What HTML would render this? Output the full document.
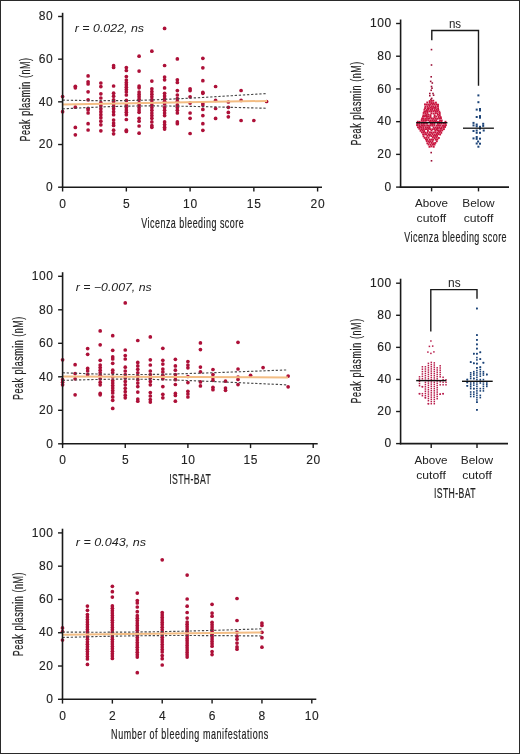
<!DOCTYPE html>
<html><head><meta charset="utf-8"><style>
html,body{margin:0;padding:0;background:#fff;}
svg{display:block;font-family:"Liberation Sans", sans-serif;will-change:transform;}
</style></head><body>
<svg width="520" height="754" viewBox="0 0 520 754">
<rect x="0.5" y="0.5" width="519" height="753" fill="#fff" stroke="#2a2a2a" stroke-width="1"/>
<text x="0" y="0" font-size="14" letter-spacing="0.860" fill="#222" stroke="#222" stroke-width="0.18" transform="translate(29.90,141.50) rotate(-90) scale(0.64,1)">Peak plasmin (nM)</text>
<text x="0" y="0" font-size="14" letter-spacing="0.745" fill="#222" stroke="#222" stroke-width="0.18" transform="translate(141.25,228.00) scale(0.64,1)">Vicenza bleeding score</text>
<text x="74.80" y="31.80" font-size="11" text-anchor="start" font-style="italic" textLength="69.2" lengthAdjust="spacingAndGlyphs" fill="#222" >r = 0.022, ns</text>
<circle cx="62.60" cy="96.60" r="1.85" fill="#ad1038"/>
<circle cx="62.60" cy="111.70" r="1.85" fill="#ad1038"/>
<circle cx="75.35" cy="86.30" r="1.85" fill="#ad1038"/>
<circle cx="75.35" cy="87.80" r="1.85" fill="#ad1038"/>
<circle cx="75.35" cy="107.20" r="1.85" fill="#ad1038"/>
<circle cx="75.35" cy="127.40" r="1.85" fill="#ad1038"/>
<circle cx="75.35" cy="134.80" r="1.85" fill="#ad1038"/>
<circle cx="88.10" cy="75.90" r="1.85" fill="#ad1038"/>
<circle cx="88.10" cy="81.80" r="1.85" fill="#ad1038"/>
<circle cx="88.10" cy="83.90" r="1.85" fill="#ad1038"/>
<circle cx="88.10" cy="91.80" r="1.85" fill="#ad1038"/>
<circle cx="88.10" cy="99.80" r="1.85" fill="#ad1038"/>
<circle cx="88.10" cy="108.30" r="1.85" fill="#ad1038"/>
<circle cx="88.10" cy="109.90" r="1.85" fill="#ad1038"/>
<circle cx="88.10" cy="113.00" r="1.85" fill="#ad1038"/>
<circle cx="88.10" cy="123.70" r="1.85" fill="#ad1038"/>
<circle cx="88.10" cy="130.00" r="1.85" fill="#ad1038"/>
<circle cx="100.85" cy="83.00" r="1.85" fill="#ad1038"/>
<circle cx="100.85" cy="86.60" r="1.85" fill="#ad1038"/>
<circle cx="100.85" cy="93.80" r="1.85" fill="#ad1038"/>
<circle cx="100.85" cy="98.00" r="1.85" fill="#ad1038"/>
<circle cx="100.85" cy="102.70" r="1.85" fill="#ad1038"/>
<circle cx="100.85" cy="105.70" r="1.85" fill="#ad1038"/>
<circle cx="100.85" cy="108.70" r="1.85" fill="#ad1038"/>
<circle cx="100.85" cy="111.70" r="1.85" fill="#ad1038"/>
<circle cx="100.85" cy="114.70" r="1.85" fill="#ad1038"/>
<circle cx="100.85" cy="117.70" r="1.85" fill="#ad1038"/>
<circle cx="100.85" cy="121.20" r="1.85" fill="#ad1038"/>
<circle cx="100.85" cy="124.80" r="1.85" fill="#ad1038"/>
<circle cx="100.85" cy="130.80" r="1.85" fill="#ad1038"/>
<circle cx="113.60" cy="65.70" r="1.85" fill="#ad1038"/>
<circle cx="113.60" cy="67.50" r="1.85" fill="#ad1038"/>
<circle cx="113.60" cy="86.00" r="1.85" fill="#ad1038"/>
<circle cx="113.60" cy="93.20" r="1.85" fill="#ad1038"/>
<circle cx="113.60" cy="96.20" r="1.85" fill="#ad1038"/>
<circle cx="113.60" cy="99.80" r="1.85" fill="#ad1038"/>
<circle cx="113.60" cy="101.50" r="1.85" fill="#ad1038"/>
<circle cx="113.60" cy="103.90" r="1.85" fill="#ad1038"/>
<circle cx="113.60" cy="106.30" r="1.85" fill="#ad1038"/>
<circle cx="113.60" cy="108.70" r="1.85" fill="#ad1038"/>
<circle cx="113.60" cy="111.70" r="1.85" fill="#ad1038"/>
<circle cx="113.60" cy="114.70" r="1.85" fill="#ad1038"/>
<circle cx="113.60" cy="120.00" r="1.85" fill="#ad1038"/>
<circle cx="113.60" cy="123.00" r="1.85" fill="#ad1038"/>
<circle cx="113.60" cy="125.40" r="1.85" fill="#ad1038"/>
<circle cx="113.60" cy="130.20" r="1.85" fill="#ad1038"/>
<circle cx="113.60" cy="133.80" r="1.85" fill="#ad1038"/>
<circle cx="126.35" cy="67.50" r="1.85" fill="#ad1038"/>
<circle cx="126.35" cy="70.50" r="1.85" fill="#ad1038"/>
<circle cx="126.35" cy="76.50" r="1.85" fill="#ad1038"/>
<circle cx="126.35" cy="80.00" r="1.85" fill="#ad1038"/>
<circle cx="126.35" cy="82.50" r="1.85" fill="#ad1038"/>
<circle cx="126.35" cy="84.80" r="1.85" fill="#ad1038"/>
<circle cx="126.35" cy="87.20" r="1.85" fill="#ad1038"/>
<circle cx="126.35" cy="89.60" r="1.85" fill="#ad1038"/>
<circle cx="126.35" cy="92.00" r="1.85" fill="#ad1038"/>
<circle cx="126.35" cy="95.00" r="1.85" fill="#ad1038"/>
<circle cx="126.35" cy="100.40" r="1.85" fill="#ad1038"/>
<circle cx="126.35" cy="105.10" r="1.85" fill="#ad1038"/>
<circle cx="126.35" cy="107.50" r="1.85" fill="#ad1038"/>
<circle cx="126.35" cy="110.00" r="1.85" fill="#ad1038"/>
<circle cx="126.35" cy="112.30" r="1.85" fill="#ad1038"/>
<circle cx="126.35" cy="114.70" r="1.85" fill="#ad1038"/>
<circle cx="126.35" cy="119.50" r="1.85" fill="#ad1038"/>
<circle cx="126.35" cy="130.20" r="1.85" fill="#ad1038"/>
<circle cx="126.35" cy="131.40" r="1.85" fill="#ad1038"/>
<circle cx="139.10" cy="56.20" r="1.85" fill="#ad1038"/>
<circle cx="139.10" cy="71.10" r="1.85" fill="#ad1038"/>
<circle cx="139.10" cy="86.00" r="1.85" fill="#ad1038"/>
<circle cx="139.10" cy="87.80" r="1.85" fill="#ad1038"/>
<circle cx="139.10" cy="92.00" r="1.85" fill="#ad1038"/>
<circle cx="139.10" cy="94.40" r="1.85" fill="#ad1038"/>
<circle cx="139.10" cy="96.80" r="1.85" fill="#ad1038"/>
<circle cx="139.10" cy="99.20" r="1.85" fill="#ad1038"/>
<circle cx="139.10" cy="102.70" r="1.85" fill="#ad1038"/>
<circle cx="139.10" cy="105.10" r="1.85" fill="#ad1038"/>
<circle cx="139.10" cy="107.50" r="1.85" fill="#ad1038"/>
<circle cx="139.10" cy="110.00" r="1.85" fill="#ad1038"/>
<circle cx="139.10" cy="112.30" r="1.85" fill="#ad1038"/>
<circle cx="139.10" cy="118.30" r="1.85" fill="#ad1038"/>
<circle cx="139.10" cy="121.20" r="1.85" fill="#ad1038"/>
<circle cx="139.10" cy="126.00" r="1.85" fill="#ad1038"/>
<circle cx="139.10" cy="133.20" r="1.85" fill="#ad1038"/>
<circle cx="151.85" cy="51.20" r="1.85" fill="#ad1038"/>
<circle cx="151.85" cy="81.10" r="1.85" fill="#ad1038"/>
<circle cx="151.85" cy="88.80" r="1.85" fill="#ad1038"/>
<circle cx="151.85" cy="91.50" r="1.85" fill="#ad1038"/>
<circle cx="151.85" cy="94.20" r="1.85" fill="#ad1038"/>
<circle cx="151.85" cy="96.80" r="1.85" fill="#ad1038"/>
<circle cx="151.85" cy="99.50" r="1.85" fill="#ad1038"/>
<circle cx="151.85" cy="102.20" r="1.85" fill="#ad1038"/>
<circle cx="151.85" cy="104.90" r="1.85" fill="#ad1038"/>
<circle cx="151.85" cy="107.60" r="1.85" fill="#ad1038"/>
<circle cx="151.85" cy="110.30" r="1.85" fill="#ad1038"/>
<circle cx="151.85" cy="113.00" r="1.85" fill="#ad1038"/>
<circle cx="151.85" cy="115.60" r="1.85" fill="#ad1038"/>
<circle cx="151.85" cy="118.30" r="1.85" fill="#ad1038"/>
<circle cx="151.85" cy="121.90" r="1.85" fill="#ad1038"/>
<circle cx="151.85" cy="125.50" r="1.85" fill="#ad1038"/>
<circle cx="151.85" cy="127.30" r="1.85" fill="#ad1038"/>
<circle cx="164.60" cy="28.40" r="1.85" fill="#ad1038"/>
<circle cx="164.60" cy="65.50" r="1.85" fill="#ad1038"/>
<circle cx="164.60" cy="77.10" r="1.85" fill="#ad1038"/>
<circle cx="164.60" cy="79.80" r="1.85" fill="#ad1038"/>
<circle cx="164.60" cy="87.90" r="1.85" fill="#ad1038"/>
<circle cx="164.60" cy="93.30" r="1.85" fill="#ad1038"/>
<circle cx="164.60" cy="95.90" r="1.85" fill="#ad1038"/>
<circle cx="164.60" cy="98.60" r="1.85" fill="#ad1038"/>
<circle cx="164.60" cy="101.30" r="1.85" fill="#ad1038"/>
<circle cx="164.60" cy="104.00" r="1.85" fill="#ad1038"/>
<circle cx="164.60" cy="107.60" r="1.85" fill="#ad1038"/>
<circle cx="164.60" cy="110.30" r="1.85" fill="#ad1038"/>
<circle cx="164.60" cy="113.00" r="1.85" fill="#ad1038"/>
<circle cx="164.60" cy="115.60" r="1.85" fill="#ad1038"/>
<circle cx="164.60" cy="121.90" r="1.85" fill="#ad1038"/>
<circle cx="164.60" cy="124.60" r="1.85" fill="#ad1038"/>
<circle cx="164.60" cy="127.30" r="1.85" fill="#ad1038"/>
<circle cx="164.60" cy="129.10" r="1.85" fill="#ad1038"/>
<circle cx="177.35" cy="58.90" r="1.85" fill="#ad1038"/>
<circle cx="177.35" cy="79.80" r="1.85" fill="#ad1038"/>
<circle cx="177.35" cy="82.50" r="1.85" fill="#ad1038"/>
<circle cx="177.35" cy="90.60" r="1.85" fill="#ad1038"/>
<circle cx="177.35" cy="95.00" r="1.85" fill="#ad1038"/>
<circle cx="177.35" cy="98.60" r="1.85" fill="#ad1038"/>
<circle cx="177.35" cy="101.30" r="1.85" fill="#ad1038"/>
<circle cx="177.35" cy="104.90" r="1.85" fill="#ad1038"/>
<circle cx="177.35" cy="107.60" r="1.85" fill="#ad1038"/>
<circle cx="177.35" cy="110.30" r="1.85" fill="#ad1038"/>
<circle cx="177.35" cy="113.00" r="1.85" fill="#ad1038"/>
<circle cx="177.35" cy="121.90" r="1.85" fill="#ad1038"/>
<circle cx="177.35" cy="123.70" r="1.85" fill="#ad1038"/>
<circle cx="190.10" cy="88.80" r="1.85" fill="#ad1038"/>
<circle cx="190.10" cy="90.60" r="1.85" fill="#ad1038"/>
<circle cx="190.10" cy="96.80" r="1.85" fill="#ad1038"/>
<circle cx="190.10" cy="103.10" r="1.85" fill="#ad1038"/>
<circle cx="190.10" cy="113.00" r="1.85" fill="#ad1038"/>
<circle cx="190.10" cy="118.30" r="1.85" fill="#ad1038"/>
<circle cx="190.10" cy="133.50" r="1.85" fill="#ad1038"/>
<circle cx="202.85" cy="58.30" r="1.85" fill="#ad1038"/>
<circle cx="202.85" cy="67.80" r="1.85" fill="#ad1038"/>
<circle cx="202.85" cy="80.70" r="1.85" fill="#ad1038"/>
<circle cx="202.85" cy="92.40" r="1.85" fill="#ad1038"/>
<circle cx="202.85" cy="93.30" r="1.85" fill="#ad1038"/>
<circle cx="202.85" cy="103.10" r="1.85" fill="#ad1038"/>
<circle cx="202.85" cy="104.90" r="1.85" fill="#ad1038"/>
<circle cx="202.85" cy="109.40" r="1.85" fill="#ad1038"/>
<circle cx="202.85" cy="115.60" r="1.85" fill="#ad1038"/>
<circle cx="202.85" cy="123.70" r="1.85" fill="#ad1038"/>
<circle cx="202.85" cy="130.30" r="1.85" fill="#ad1038"/>
<circle cx="215.60" cy="86.50" r="1.85" fill="#ad1038"/>
<circle cx="215.60" cy="100.40" r="1.85" fill="#ad1038"/>
<circle cx="215.60" cy="108.50" r="1.85" fill="#ad1038"/>
<circle cx="215.60" cy="118.40" r="1.85" fill="#ad1038"/>
<circle cx="228.35" cy="102.00" r="1.85" fill="#ad1038"/>
<circle cx="228.35" cy="107.30" r="1.85" fill="#ad1038"/>
<circle cx="228.35" cy="112.40" r="1.85" fill="#ad1038"/>
<circle cx="228.35" cy="116.80" r="1.85" fill="#ad1038"/>
<circle cx="241.10" cy="90.50" r="1.85" fill="#ad1038"/>
<circle cx="241.10" cy="100.40" r="1.85" fill="#ad1038"/>
<circle cx="241.10" cy="120.50" r="1.85" fill="#ad1038"/>
<circle cx="253.85" cy="120.50" r="1.85" fill="#ad1038"/>
<circle cx="266.60" cy="101.50" r="1.85" fill="#ad1038"/>
<line x1="62.60" y1="104.50" x2="267.00" y2="100.90" stroke="#f3bd84" stroke-width="2.0" />
<polyline points="62.60,100.12 67.71,100.22 72.82,100.32 77.93,100.41 83.04,100.49 88.15,100.55 93.26,100.61 98.37,100.65 103.48,100.68 108.59,100.69 113.70,100.68 118.81,100.65 123.92,100.60 129.03,100.53 134.14,100.43 139.25,100.31 144.36,100.17 149.47,100.01 154.58,99.82 159.69,99.62 164.80,99.40 169.91,99.17 175.02,98.93 180.13,98.67 185.24,98.41 190.35,98.13 195.46,97.85 200.57,97.57 205.68,97.27 210.79,96.97 215.90,96.67 221.01,96.37 226.12,96.06 231.23,95.75 236.34,95.43 241.45,95.11 246.56,94.79 251.67,94.47 256.78,94.15 261.89,93.83 267.00,93.50" fill="none" stroke="#4a4a4a" stroke-width="1.15" stroke-dasharray="2.3,1.8"/>
<polyline points="62.60,108.88 67.71,108.60 72.82,108.32 77.93,108.05 83.04,107.79 88.15,107.55 93.26,107.31 98.37,107.09 103.48,106.88 108.59,106.69 113.70,106.52 118.81,106.37 123.92,106.24 129.03,106.13 134.14,106.05 139.25,105.99 144.36,105.95 149.47,105.93 154.58,105.94 159.69,105.96 164.80,106.00 169.91,106.05 175.02,106.11 180.13,106.19 185.24,106.27 190.35,106.37 195.46,106.47 200.57,106.57 205.68,106.69 210.79,106.81 215.90,106.93 221.01,107.05 226.12,107.18 231.23,107.31 236.34,107.45 241.45,107.59 246.56,107.73 251.67,107.87 256.78,108.01 261.89,108.15 267.00,108.30" fill="none" stroke="#4a4a4a" stroke-width="1.15" stroke-dasharray="2.3,1.8"/>
<line x1="62.60" y1="12.80" x2="62.60" y2="187.95" stroke="#1a1a1a" stroke-width="1.6" />
<line x1="58.10" y1="187.20" x2="62.60" y2="187.20" stroke="#1a1a1a" stroke-width="1.4" />
<text x="53.40" y="190.90" font-size="12" text-anchor="end" fill="#222" letter-spacing="0.6" stroke="#222" stroke-width="0.12">0</text>
<line x1="58.10" y1="144.52" x2="62.60" y2="144.52" stroke="#1a1a1a" stroke-width="1.4" />
<text x="53.40" y="148.22" font-size="12" text-anchor="end" fill="#222" letter-spacing="0.6" stroke="#222" stroke-width="0.12">20</text>
<line x1="58.10" y1="101.84" x2="62.60" y2="101.84" stroke="#1a1a1a" stroke-width="1.4" />
<text x="53.40" y="105.54" font-size="12" text-anchor="end" fill="#222" letter-spacing="0.6" stroke="#222" stroke-width="0.12">40</text>
<line x1="58.10" y1="59.16" x2="62.60" y2="59.16" stroke="#1a1a1a" stroke-width="1.4" />
<text x="53.40" y="62.86" font-size="12" text-anchor="end" fill="#222" letter-spacing="0.6" stroke="#222" stroke-width="0.12">60</text>
<line x1="58.10" y1="16.48" x2="62.60" y2="16.48" stroke="#1a1a1a" stroke-width="1.4" />
<text x="53.40" y="20.18" font-size="12" text-anchor="end" fill="#222" letter-spacing="0.6" stroke="#222" stroke-width="0.12">80</text>
<line x1="61.80" y1="187.20" x2="322.00" y2="187.20" stroke="#1a1a1a" stroke-width="1.6" />
<line x1="62.60" y1="187.20" x2="62.60" y2="191.50" stroke="#1a1a1a" stroke-width="1.4" />
<text x="62.90" y="207.80" font-size="12" text-anchor="middle" fill="#222" letter-spacing="0.6" stroke="#222" stroke-width="0.12">0</text>
<line x1="126.35" y1="187.20" x2="126.35" y2="191.50" stroke="#1a1a1a" stroke-width="1.4" />
<text x="126.65" y="207.80" font-size="12" text-anchor="middle" fill="#222" letter-spacing="0.6" stroke="#222" stroke-width="0.12">5</text>
<line x1="190.10" y1="187.20" x2="190.10" y2="191.50" stroke="#1a1a1a" stroke-width="1.4" />
<text x="190.40" y="207.80" font-size="12" text-anchor="middle" fill="#222" letter-spacing="0.6" stroke="#222" stroke-width="0.12">10</text>
<line x1="253.85" y1="187.20" x2="253.85" y2="191.50" stroke="#1a1a1a" stroke-width="1.4" />
<text x="254.15" y="207.80" font-size="12" text-anchor="middle" fill="#222" letter-spacing="0.6" stroke="#222" stroke-width="0.12">15</text>
<line x1="317.60" y1="187.20" x2="317.60" y2="191.50" stroke="#1a1a1a" stroke-width="1.4" />
<text x="317.90" y="207.80" font-size="12" text-anchor="middle" fill="#222" letter-spacing="0.6" stroke="#222" stroke-width="0.12">20</text>
<text x="0" y="0" font-size="14" letter-spacing="0.841" fill="#222" stroke="#222" stroke-width="0.18" transform="translate(23.30,400.00) rotate(-90) scale(0.64,1)">Peak plasmin (nM)</text>
<text x="0" y="0" font-size="14" letter-spacing="0.622" fill="#222" stroke="#222" stroke-width="0.18" transform="translate(169.20,483.50) scale(0.62,1)">ISTH-BAT</text>
<text x="75.80" y="290.90" font-size="11" text-anchor="start" font-style="italic" textLength="75.9" lengthAdjust="spacingAndGlyphs" fill="#222" >r = −0.007, ns</text>
<circle cx="62.60" cy="359.80" r="1.85" fill="#ad1038"/>
<circle cx="62.60" cy="379.70" r="1.85" fill="#ad1038"/>
<circle cx="62.60" cy="382.20" r="1.85" fill="#ad1038"/>
<circle cx="62.60" cy="384.80" r="1.85" fill="#ad1038"/>
<circle cx="75.13" cy="364.70" r="1.85" fill="#ad1038"/>
<circle cx="75.13" cy="373.60" r="1.85" fill="#ad1038"/>
<circle cx="75.13" cy="378.80" r="1.85" fill="#ad1038"/>
<circle cx="75.13" cy="394.80" r="1.85" fill="#ad1038"/>
<circle cx="87.66" cy="348.60" r="1.85" fill="#ad1038"/>
<circle cx="87.66" cy="354.30" r="1.85" fill="#ad1038"/>
<circle cx="87.66" cy="368.40" r="1.85" fill="#ad1038"/>
<circle cx="87.66" cy="371.00" r="1.85" fill="#ad1038"/>
<circle cx="87.66" cy="374.50" r="1.85" fill="#ad1038"/>
<circle cx="100.19" cy="330.90" r="1.85" fill="#ad1038"/>
<circle cx="100.19" cy="344.80" r="1.85" fill="#ad1038"/>
<circle cx="100.19" cy="360.30" r="1.85" fill="#ad1038"/>
<circle cx="100.19" cy="365.00" r="1.85" fill="#ad1038"/>
<circle cx="100.19" cy="367.60" r="1.85" fill="#ad1038"/>
<circle cx="100.19" cy="370.20" r="1.85" fill="#ad1038"/>
<circle cx="100.19" cy="372.80" r="1.85" fill="#ad1038"/>
<circle cx="100.19" cy="375.30" r="1.85" fill="#ad1038"/>
<circle cx="100.19" cy="378.80" r="1.85" fill="#ad1038"/>
<circle cx="100.19" cy="382.20" r="1.85" fill="#ad1038"/>
<circle cx="100.19" cy="384.80" r="1.85" fill="#ad1038"/>
<circle cx="100.19" cy="393.40" r="1.85" fill="#ad1038"/>
<circle cx="100.19" cy="394.80" r="1.85" fill="#ad1038"/>
<circle cx="112.72" cy="335.70" r="1.85" fill="#ad1038"/>
<circle cx="112.72" cy="350.30" r="1.85" fill="#ad1038"/>
<circle cx="112.72" cy="356.90" r="1.85" fill="#ad1038"/>
<circle cx="112.72" cy="359.00" r="1.85" fill="#ad1038"/>
<circle cx="112.72" cy="363.30" r="1.85" fill="#ad1038"/>
<circle cx="112.72" cy="370.20" r="1.85" fill="#ad1038"/>
<circle cx="112.72" cy="372.80" r="1.85" fill="#ad1038"/>
<circle cx="112.72" cy="377.00" r="1.85" fill="#ad1038"/>
<circle cx="112.72" cy="380.50" r="1.85" fill="#ad1038"/>
<circle cx="112.72" cy="383.00" r="1.85" fill="#ad1038"/>
<circle cx="112.72" cy="385.50" r="1.85" fill="#ad1038"/>
<circle cx="112.72" cy="388.00" r="1.85" fill="#ad1038"/>
<circle cx="112.72" cy="390.50" r="1.85" fill="#ad1038"/>
<circle cx="112.72" cy="393.00" r="1.85" fill="#ad1038"/>
<circle cx="112.72" cy="396.90" r="1.85" fill="#ad1038"/>
<circle cx="112.72" cy="400.30" r="1.85" fill="#ad1038"/>
<circle cx="112.72" cy="408.40" r="1.85" fill="#ad1038"/>
<circle cx="125.25" cy="302.90" r="1.85" fill="#ad1038"/>
<circle cx="125.25" cy="350.00" r="1.85" fill="#ad1038"/>
<circle cx="125.25" cy="355.50" r="1.85" fill="#ad1038"/>
<circle cx="125.25" cy="359.00" r="1.85" fill="#ad1038"/>
<circle cx="125.25" cy="367.20" r="1.85" fill="#ad1038"/>
<circle cx="125.25" cy="371.00" r="1.85" fill="#ad1038"/>
<circle cx="125.25" cy="374.50" r="1.85" fill="#ad1038"/>
<circle cx="125.25" cy="377.90" r="1.85" fill="#ad1038"/>
<circle cx="125.25" cy="381.40" r="1.85" fill="#ad1038"/>
<circle cx="125.25" cy="384.80" r="1.85" fill="#ad1038"/>
<circle cx="125.25" cy="388.30" r="1.85" fill="#ad1038"/>
<circle cx="125.25" cy="391.70" r="1.85" fill="#ad1038"/>
<circle cx="125.25" cy="395.20" r="1.85" fill="#ad1038"/>
<circle cx="125.25" cy="397.80" r="1.85" fill="#ad1038"/>
<circle cx="137.78" cy="340.50" r="1.85" fill="#ad1038"/>
<circle cx="137.78" cy="362.40" r="1.85" fill="#ad1038"/>
<circle cx="137.78" cy="365.90" r="1.85" fill="#ad1038"/>
<circle cx="137.78" cy="369.30" r="1.85" fill="#ad1038"/>
<circle cx="137.78" cy="372.80" r="1.85" fill="#ad1038"/>
<circle cx="137.78" cy="376.20" r="1.85" fill="#ad1038"/>
<circle cx="137.78" cy="379.70" r="1.85" fill="#ad1038"/>
<circle cx="137.78" cy="383.10" r="1.85" fill="#ad1038"/>
<circle cx="137.78" cy="386.60" r="1.85" fill="#ad1038"/>
<circle cx="137.78" cy="392.10" r="1.85" fill="#ad1038"/>
<circle cx="137.78" cy="399.00" r="1.85" fill="#ad1038"/>
<circle cx="137.78" cy="401.20" r="1.85" fill="#ad1038"/>
<circle cx="150.31" cy="336.90" r="1.85" fill="#ad1038"/>
<circle cx="150.31" cy="359.80" r="1.85" fill="#ad1038"/>
<circle cx="150.31" cy="365.00" r="1.85" fill="#ad1038"/>
<circle cx="150.31" cy="371.00" r="1.85" fill="#ad1038"/>
<circle cx="150.31" cy="374.50" r="1.85" fill="#ad1038"/>
<circle cx="150.31" cy="377.90" r="1.85" fill="#ad1038"/>
<circle cx="150.31" cy="381.40" r="1.85" fill="#ad1038"/>
<circle cx="150.31" cy="384.80" r="1.85" fill="#ad1038"/>
<circle cx="150.31" cy="392.60" r="1.85" fill="#ad1038"/>
<circle cx="150.31" cy="396.00" r="1.85" fill="#ad1038"/>
<circle cx="150.31" cy="399.50" r="1.85" fill="#ad1038"/>
<circle cx="150.31" cy="402.10" r="1.85" fill="#ad1038"/>
<circle cx="162.84" cy="348.30" r="1.85" fill="#ad1038"/>
<circle cx="162.84" cy="360.30" r="1.85" fill="#ad1038"/>
<circle cx="162.84" cy="364.10" r="1.85" fill="#ad1038"/>
<circle cx="162.84" cy="369.00" r="1.85" fill="#ad1038"/>
<circle cx="162.84" cy="371.90" r="1.85" fill="#ad1038"/>
<circle cx="162.84" cy="375.30" r="1.85" fill="#ad1038"/>
<circle cx="162.84" cy="378.80" r="1.85" fill="#ad1038"/>
<circle cx="162.84" cy="386.60" r="1.85" fill="#ad1038"/>
<circle cx="162.84" cy="394.30" r="1.85" fill="#ad1038"/>
<circle cx="162.84" cy="397.80" r="1.85" fill="#ad1038"/>
<circle cx="175.37" cy="359.30" r="1.85" fill="#ad1038"/>
<circle cx="175.37" cy="365.90" r="1.85" fill="#ad1038"/>
<circle cx="175.37" cy="370.20" r="1.85" fill="#ad1038"/>
<circle cx="175.37" cy="374.50" r="1.85" fill="#ad1038"/>
<circle cx="175.37" cy="377.10" r="1.85" fill="#ad1038"/>
<circle cx="175.37" cy="379.70" r="1.85" fill="#ad1038"/>
<circle cx="175.37" cy="384.50" r="1.85" fill="#ad1038"/>
<circle cx="175.37" cy="393.40" r="1.85" fill="#ad1038"/>
<circle cx="175.37" cy="395.50" r="1.85" fill="#ad1038"/>
<circle cx="175.37" cy="401.20" r="1.85" fill="#ad1038"/>
<circle cx="187.90" cy="361.50" r="1.85" fill="#ad1038"/>
<circle cx="187.90" cy="365.10" r="1.85" fill="#ad1038"/>
<circle cx="187.90" cy="367.80" r="1.85" fill="#ad1038"/>
<circle cx="187.90" cy="376.50" r="1.85" fill="#ad1038"/>
<circle cx="187.90" cy="382.60" r="1.85" fill="#ad1038"/>
<circle cx="187.90" cy="391.30" r="1.85" fill="#ad1038"/>
<circle cx="187.90" cy="394.00" r="1.85" fill="#ad1038"/>
<circle cx="187.90" cy="397.00" r="1.85" fill="#ad1038"/>
<circle cx="200.43" cy="342.90" r="1.85" fill="#ad1038"/>
<circle cx="200.43" cy="349.60" r="1.85" fill="#ad1038"/>
<circle cx="200.43" cy="367.10" r="1.85" fill="#ad1038"/>
<circle cx="200.43" cy="371.80" r="1.85" fill="#ad1038"/>
<circle cx="200.43" cy="381.90" r="1.85" fill="#ad1038"/>
<circle cx="200.43" cy="385.90" r="1.85" fill="#ad1038"/>
<circle cx="212.96" cy="369.50" r="1.85" fill="#ad1038"/>
<circle cx="212.96" cy="374.50" r="1.85" fill="#ad1038"/>
<circle cx="212.96" cy="377.60" r="1.85" fill="#ad1038"/>
<circle cx="212.96" cy="380.30" r="1.85" fill="#ad1038"/>
<circle cx="212.96" cy="387.30" r="1.85" fill="#ad1038"/>
<circle cx="212.96" cy="389.70" r="1.85" fill="#ad1038"/>
<circle cx="225.49" cy="381.20" r="1.85" fill="#ad1038"/>
<circle cx="225.49" cy="388.00" r="1.85" fill="#ad1038"/>
<circle cx="225.49" cy="390.30" r="1.85" fill="#ad1038"/>
<circle cx="238.02" cy="342.30" r="1.85" fill="#ad1038"/>
<circle cx="238.02" cy="369.00" r="1.85" fill="#ad1038"/>
<circle cx="238.02" cy="377.10" r="1.85" fill="#ad1038"/>
<circle cx="238.02" cy="379.50" r="1.85" fill="#ad1038"/>
<circle cx="238.02" cy="384.60" r="1.85" fill="#ad1038"/>
<circle cx="250.55" cy="375.30" r="1.85" fill="#ad1038"/>
<circle cx="263.08" cy="367.60" r="1.85" fill="#ad1038"/>
<circle cx="288.14" cy="376.10" r="1.85" fill="#ad1038"/>
<circle cx="288.14" cy="386.80" r="1.85" fill="#ad1038"/>
<line x1="62.60" y1="376.60" x2="288.00" y2="377.40" stroke="#f3bd84" stroke-width="2.0" />
<polyline points="62.60,372.78 68.23,373.00 73.87,373.21 79.50,373.42 85.14,373.61 90.78,373.79 96.41,373.96 102.05,374.11 107.68,374.25 113.31,374.36 118.95,374.45 124.59,374.51 130.22,374.54 135.86,374.54 141.49,374.52 147.12,374.47 152.76,374.40 158.40,374.31 164.03,374.19 169.67,374.06 175.30,373.92 180.94,373.76 186.57,373.60 192.20,373.42 197.84,373.24 203.47,373.06 209.11,372.86 214.75,372.67 220.38,372.47 226.02,372.26 231.65,372.05 237.28,371.85 242.92,371.63 248.55,371.42 254.19,371.20 259.82,370.99 265.46,370.77 271.10,370.55 276.73,370.33 282.37,370.11 288.00,369.89" fill="none" stroke="#4a4a4a" stroke-width="1.15" stroke-dasharray="2.3,1.8"/>
<polyline points="62.60,380.42 68.23,380.24 73.87,380.07 79.50,379.90 85.14,379.75 90.78,379.61 96.41,379.48 102.05,379.37 107.68,379.27 113.31,379.20 118.95,379.15 124.59,379.13 130.22,379.14 135.86,379.18 141.49,379.24 147.12,379.33 152.76,379.44 158.40,379.57 164.03,379.73 169.67,379.90 175.30,380.08 180.94,380.28 186.57,380.48 192.20,380.70 197.84,380.92 203.47,381.14 209.11,381.38 214.75,381.61 220.38,381.85 226.02,382.10 231.65,382.35 237.28,382.59 242.92,382.85 248.55,383.10 254.19,383.36 259.82,383.61 265.46,383.87 271.10,384.13 276.73,384.39 282.37,384.65 288.00,384.91" fill="none" stroke="#4a4a4a" stroke-width="1.15" stroke-dasharray="2.3,1.8"/>
<line x1="62.60" y1="272.20" x2="62.60" y2="444.55" stroke="#1a1a1a" stroke-width="1.6" />
<line x1="58.10" y1="443.80" x2="62.60" y2="443.80" stroke="#1a1a1a" stroke-width="1.4" />
<text x="53.50" y="447.50" font-size="12" text-anchor="end" fill="#222" letter-spacing="0.6" stroke="#222" stroke-width="0.12">0</text>
<line x1="58.10" y1="410.30" x2="62.60" y2="410.30" stroke="#1a1a1a" stroke-width="1.4" />
<text x="53.50" y="414.00" font-size="12" text-anchor="end" fill="#222" letter-spacing="0.6" stroke="#222" stroke-width="0.12">20</text>
<line x1="58.10" y1="376.80" x2="62.60" y2="376.80" stroke="#1a1a1a" stroke-width="1.4" />
<text x="53.50" y="380.50" font-size="12" text-anchor="end" fill="#222" letter-spacing="0.6" stroke="#222" stroke-width="0.12">40</text>
<line x1="58.10" y1="343.30" x2="62.60" y2="343.30" stroke="#1a1a1a" stroke-width="1.4" />
<text x="53.50" y="347.00" font-size="12" text-anchor="end" fill="#222" letter-spacing="0.6" stroke="#222" stroke-width="0.12">60</text>
<line x1="58.10" y1="309.80" x2="62.60" y2="309.80" stroke="#1a1a1a" stroke-width="1.4" />
<text x="53.50" y="313.50" font-size="12" text-anchor="end" fill="#222" letter-spacing="0.6" stroke="#222" stroke-width="0.12">80</text>
<line x1="58.10" y1="276.30" x2="62.60" y2="276.30" stroke="#1a1a1a" stroke-width="1.4" />
<text x="53.50" y="280.00" font-size="12" text-anchor="end" fill="#222" letter-spacing="0.6" stroke="#222" stroke-width="0.12">100</text>
<line x1="61.80" y1="443.80" x2="317.70" y2="443.80" stroke="#1a1a1a" stroke-width="1.6" />
<line x1="62.60" y1="443.80" x2="62.60" y2="448.10" stroke="#1a1a1a" stroke-width="1.4" />
<text x="62.90" y="463.80" font-size="12" text-anchor="middle" fill="#222" letter-spacing="0.6" stroke="#222" stroke-width="0.12">0</text>
<line x1="125.25" y1="443.80" x2="125.25" y2="448.10" stroke="#1a1a1a" stroke-width="1.4" />
<text x="125.55" y="463.80" font-size="12" text-anchor="middle" fill="#222" letter-spacing="0.6" stroke="#222" stroke-width="0.12">5</text>
<line x1="187.90" y1="443.80" x2="187.90" y2="448.10" stroke="#1a1a1a" stroke-width="1.4" />
<text x="188.20" y="463.80" font-size="12" text-anchor="middle" fill="#222" letter-spacing="0.6" stroke="#222" stroke-width="0.12">10</text>
<line x1="250.55" y1="443.80" x2="250.55" y2="448.10" stroke="#1a1a1a" stroke-width="1.4" />
<text x="250.85" y="463.80" font-size="12" text-anchor="middle" fill="#222" letter-spacing="0.6" stroke="#222" stroke-width="0.12">15</text>
<line x1="313.20" y1="443.80" x2="313.20" y2="448.10" stroke="#1a1a1a" stroke-width="1.4" />
<text x="313.50" y="463.80" font-size="12" text-anchor="middle" fill="#222" letter-spacing="0.6" stroke="#222" stroke-width="0.12">20</text>
<text x="0" y="0" font-size="14" letter-spacing="0.899" fill="#222" stroke="#222" stroke-width="0.18" transform="translate(23.30,656.30) rotate(-90) scale(0.64,1)">Peak plasmin (nM)</text>
<text x="0" y="0" font-size="14" letter-spacing="0.915" fill="#222" stroke="#222" stroke-width="0.18" transform="translate(111.10,739.20) scale(0.64,1)">Number of bleeding manifestations</text>
<text x="75.80" y="545.90" font-size="11" text-anchor="start" font-style="italic" textLength="70.2" lengthAdjust="spacingAndGlyphs" fill="#222" >r = 0.043, ns</text>
<circle cx="62.50" cy="627.90" r="1.85" fill="#ad1038"/>
<circle cx="62.50" cy="631.50" r="1.85" fill="#ad1038"/>
<circle cx="62.50" cy="640.00" r="1.85" fill="#ad1038"/>
<circle cx="87.43" cy="606.10" r="1.85" fill="#ad1038"/>
<circle cx="87.43" cy="610.30" r="1.85" fill="#ad1038"/>
<circle cx="87.43" cy="614.60" r="1.85" fill="#ad1038"/>
<circle cx="87.43" cy="617.07" r="1.85" fill="#ad1038"/>
<circle cx="87.43" cy="619.53" r="1.85" fill="#ad1038"/>
<circle cx="87.43" cy="622.00" r="1.85" fill="#ad1038"/>
<circle cx="87.43" cy="624.47" r="1.85" fill="#ad1038"/>
<circle cx="87.43" cy="626.93" r="1.85" fill="#ad1038"/>
<circle cx="87.43" cy="629.40" r="1.85" fill="#ad1038"/>
<circle cx="87.43" cy="631.87" r="1.85" fill="#ad1038"/>
<circle cx="87.43" cy="634.33" r="1.85" fill="#ad1038"/>
<circle cx="87.43" cy="636.80" r="1.85" fill="#ad1038"/>
<circle cx="87.43" cy="639.27" r="1.85" fill="#ad1038"/>
<circle cx="87.43" cy="641.73" r="1.85" fill="#ad1038"/>
<circle cx="87.43" cy="644.20" r="1.85" fill="#ad1038"/>
<circle cx="87.43" cy="646.67" r="1.85" fill="#ad1038"/>
<circle cx="87.43" cy="649.13" r="1.85" fill="#ad1038"/>
<circle cx="87.43" cy="651.60" r="1.85" fill="#ad1038"/>
<circle cx="87.43" cy="654.07" r="1.85" fill="#ad1038"/>
<circle cx="87.43" cy="656.53" r="1.85" fill="#ad1038"/>
<circle cx="87.43" cy="659.00" r="1.85" fill="#ad1038"/>
<circle cx="87.43" cy="664.40" r="1.85" fill="#ad1038"/>
<circle cx="112.36" cy="586.30" r="1.85" fill="#ad1038"/>
<circle cx="112.36" cy="591.70" r="1.85" fill="#ad1038"/>
<circle cx="112.36" cy="597.10" r="1.85" fill="#ad1038"/>
<circle cx="112.36" cy="605.90" r="1.85" fill="#ad1038"/>
<circle cx="112.36" cy="608.29" r="1.85" fill="#ad1038"/>
<circle cx="112.36" cy="610.67" r="1.85" fill="#ad1038"/>
<circle cx="112.36" cy="613.06" r="1.85" fill="#ad1038"/>
<circle cx="112.36" cy="615.45" r="1.85" fill="#ad1038"/>
<circle cx="112.36" cy="617.83" r="1.85" fill="#ad1038"/>
<circle cx="112.36" cy="620.22" r="1.85" fill="#ad1038"/>
<circle cx="112.36" cy="622.60" r="1.85" fill="#ad1038"/>
<circle cx="112.36" cy="624.99" r="1.85" fill="#ad1038"/>
<circle cx="112.36" cy="627.38" r="1.85" fill="#ad1038"/>
<circle cx="112.36" cy="629.76" r="1.85" fill="#ad1038"/>
<circle cx="112.36" cy="632.15" r="1.85" fill="#ad1038"/>
<circle cx="112.36" cy="634.54" r="1.85" fill="#ad1038"/>
<circle cx="112.36" cy="636.92" r="1.85" fill="#ad1038"/>
<circle cx="112.36" cy="639.31" r="1.85" fill="#ad1038"/>
<circle cx="112.36" cy="641.70" r="1.85" fill="#ad1038"/>
<circle cx="112.36" cy="644.08" r="1.85" fill="#ad1038"/>
<circle cx="112.36" cy="646.47" r="1.85" fill="#ad1038"/>
<circle cx="112.36" cy="648.85" r="1.85" fill="#ad1038"/>
<circle cx="112.36" cy="651.24" r="1.85" fill="#ad1038"/>
<circle cx="112.36" cy="653.63" r="1.85" fill="#ad1038"/>
<circle cx="112.36" cy="656.01" r="1.85" fill="#ad1038"/>
<circle cx="112.36" cy="658.40" r="1.85" fill="#ad1038"/>
<circle cx="137.29" cy="593.10" r="1.85" fill="#ad1038"/>
<circle cx="137.29" cy="600.60" r="1.85" fill="#ad1038"/>
<circle cx="137.29" cy="603.00" r="1.85" fill="#ad1038"/>
<circle cx="137.29" cy="607.00" r="1.85" fill="#ad1038"/>
<circle cx="137.29" cy="611.70" r="1.85" fill="#ad1038"/>
<circle cx="137.29" cy="615.70" r="1.85" fill="#ad1038"/>
<circle cx="137.29" cy="618.14" r="1.85" fill="#ad1038"/>
<circle cx="137.29" cy="620.57" r="1.85" fill="#ad1038"/>
<circle cx="137.29" cy="623.01" r="1.85" fill="#ad1038"/>
<circle cx="137.29" cy="625.44" r="1.85" fill="#ad1038"/>
<circle cx="137.29" cy="627.88" r="1.85" fill="#ad1038"/>
<circle cx="137.29" cy="630.31" r="1.85" fill="#ad1038"/>
<circle cx="137.29" cy="632.75" r="1.85" fill="#ad1038"/>
<circle cx="137.29" cy="635.18" r="1.85" fill="#ad1038"/>
<circle cx="137.29" cy="637.62" r="1.85" fill="#ad1038"/>
<circle cx="137.29" cy="640.05" r="1.85" fill="#ad1038"/>
<circle cx="137.29" cy="642.49" r="1.85" fill="#ad1038"/>
<circle cx="137.29" cy="644.92" r="1.85" fill="#ad1038"/>
<circle cx="137.29" cy="647.36" r="1.85" fill="#ad1038"/>
<circle cx="137.29" cy="649.79" r="1.85" fill="#ad1038"/>
<circle cx="137.29" cy="652.23" r="1.85" fill="#ad1038"/>
<circle cx="137.29" cy="654.66" r="1.85" fill="#ad1038"/>
<circle cx="137.29" cy="657.10" r="1.85" fill="#ad1038"/>
<circle cx="137.29" cy="672.70" r="1.85" fill="#ad1038"/>
<circle cx="162.22" cy="559.80" r="1.85" fill="#ad1038"/>
<circle cx="162.22" cy="612.50" r="1.85" fill="#ad1038"/>
<circle cx="162.22" cy="614.97" r="1.85" fill="#ad1038"/>
<circle cx="162.22" cy="617.44" r="1.85" fill="#ad1038"/>
<circle cx="162.22" cy="619.91" r="1.85" fill="#ad1038"/>
<circle cx="162.22" cy="622.38" r="1.85" fill="#ad1038"/>
<circle cx="162.22" cy="624.84" r="1.85" fill="#ad1038"/>
<circle cx="162.22" cy="627.31" r="1.85" fill="#ad1038"/>
<circle cx="162.22" cy="629.78" r="1.85" fill="#ad1038"/>
<circle cx="162.22" cy="632.25" r="1.85" fill="#ad1038"/>
<circle cx="162.22" cy="634.72" r="1.85" fill="#ad1038"/>
<circle cx="162.22" cy="637.19" r="1.85" fill="#ad1038"/>
<circle cx="162.22" cy="639.66" r="1.85" fill="#ad1038"/>
<circle cx="162.22" cy="642.12" r="1.85" fill="#ad1038"/>
<circle cx="162.22" cy="644.59" r="1.85" fill="#ad1038"/>
<circle cx="162.22" cy="647.06" r="1.85" fill="#ad1038"/>
<circle cx="162.22" cy="649.53" r="1.85" fill="#ad1038"/>
<circle cx="162.22" cy="652.00" r="1.85" fill="#ad1038"/>
<circle cx="162.22" cy="655.50" r="1.85" fill="#ad1038"/>
<circle cx="162.22" cy="658.70" r="1.85" fill="#ad1038"/>
<circle cx="162.22" cy="665.00" r="1.85" fill="#ad1038"/>
<circle cx="187.15" cy="575.10" r="1.85" fill="#ad1038"/>
<circle cx="187.15" cy="599.00" r="1.85" fill="#ad1038"/>
<circle cx="187.15" cy="606.20" r="1.85" fill="#ad1038"/>
<circle cx="187.15" cy="612.50" r="1.85" fill="#ad1038"/>
<circle cx="187.15" cy="618.10" r="1.85" fill="#ad1038"/>
<circle cx="187.15" cy="622.00" r="1.85" fill="#ad1038"/>
<circle cx="187.15" cy="624.34" r="1.85" fill="#ad1038"/>
<circle cx="187.15" cy="626.68" r="1.85" fill="#ad1038"/>
<circle cx="187.15" cy="629.02" r="1.85" fill="#ad1038"/>
<circle cx="187.15" cy="631.36" r="1.85" fill="#ad1038"/>
<circle cx="187.15" cy="633.70" r="1.85" fill="#ad1038"/>
<circle cx="187.15" cy="636.04" r="1.85" fill="#ad1038"/>
<circle cx="187.15" cy="638.38" r="1.85" fill="#ad1038"/>
<circle cx="187.15" cy="640.72" r="1.85" fill="#ad1038"/>
<circle cx="187.15" cy="643.06" r="1.85" fill="#ad1038"/>
<circle cx="187.15" cy="645.40" r="1.85" fill="#ad1038"/>
<circle cx="187.15" cy="647.74" r="1.85" fill="#ad1038"/>
<circle cx="187.15" cy="650.08" r="1.85" fill="#ad1038"/>
<circle cx="187.15" cy="652.42" r="1.85" fill="#ad1038"/>
<circle cx="187.15" cy="654.76" r="1.85" fill="#ad1038"/>
<circle cx="187.15" cy="657.10" r="1.85" fill="#ad1038"/>
<circle cx="212.08" cy="604.30" r="1.85" fill="#ad1038"/>
<circle cx="212.08" cy="613.10" r="1.85" fill="#ad1038"/>
<circle cx="212.08" cy="616.20" r="1.85" fill="#ad1038"/>
<circle cx="212.08" cy="622.30" r="1.85" fill="#ad1038"/>
<circle cx="212.08" cy="624.69" r="1.85" fill="#ad1038"/>
<circle cx="212.08" cy="627.08" r="1.85" fill="#ad1038"/>
<circle cx="212.08" cy="629.47" r="1.85" fill="#ad1038"/>
<circle cx="212.08" cy="631.86" r="1.85" fill="#ad1038"/>
<circle cx="212.08" cy="634.25" r="1.85" fill="#ad1038"/>
<circle cx="212.08" cy="636.64" r="1.85" fill="#ad1038"/>
<circle cx="212.08" cy="639.03" r="1.85" fill="#ad1038"/>
<circle cx="212.08" cy="641.42" r="1.85" fill="#ad1038"/>
<circle cx="212.08" cy="643.81" r="1.85" fill="#ad1038"/>
<circle cx="212.08" cy="646.20" r="1.85" fill="#ad1038"/>
<circle cx="212.08" cy="651.50" r="1.85" fill="#ad1038"/>
<circle cx="212.08" cy="654.60" r="1.85" fill="#ad1038"/>
<circle cx="237.01" cy="598.50" r="1.85" fill="#ad1038"/>
<circle cx="237.01" cy="620.50" r="1.85" fill="#ad1038"/>
<circle cx="237.01" cy="632.30" r="1.85" fill="#ad1038"/>
<circle cx="237.01" cy="636.20" r="1.85" fill="#ad1038"/>
<circle cx="237.01" cy="639.20" r="1.85" fill="#ad1038"/>
<circle cx="237.01" cy="643.10" r="1.85" fill="#ad1038"/>
<circle cx="237.01" cy="646.90" r="1.85" fill="#ad1038"/>
<circle cx="237.01" cy="649.20" r="1.85" fill="#ad1038"/>
<circle cx="261.94" cy="623.10" r="1.85" fill="#ad1038"/>
<circle cx="261.94" cy="625.40" r="1.85" fill="#ad1038"/>
<circle cx="261.94" cy="632.30" r="1.85" fill="#ad1038"/>
<circle cx="261.94" cy="637.70" r="1.85" fill="#ad1038"/>
<circle cx="261.94" cy="647.20" r="1.85" fill="#ad1038"/>
<line x1="62.50" y1="634.80" x2="261.50" y2="632.40" stroke="#f3bd84" stroke-width="2.0" />
<polyline points="62.50,632.10 67.47,632.13 72.45,632.15 77.42,632.17 82.40,632.19 87.38,632.20 92.35,632.21 97.33,632.21 102.30,632.20 107.28,632.20 112.25,632.18 117.22,632.16 122.20,632.13 127.17,632.09 132.15,632.05 137.12,632.00 142.10,631.94 147.07,631.87 152.05,631.80 157.03,631.71 162.00,631.62 166.97,631.53 171.95,631.42 176.93,631.31 181.90,631.20 186.88,631.08 191.85,630.95 196.82,630.82 201.80,630.68 206.78,630.54 211.75,630.40 216.72,630.26 221.70,630.11 226.68,629.96 231.65,629.80 236.62,629.65 241.60,629.49 246.57,629.33 251.55,629.17 256.52,629.01 261.50,628.85" fill="none" stroke="#4a4a4a" stroke-width="1.15" stroke-dasharray="2.3,1.8"/>
<polyline points="62.50,637.50 67.47,637.35 72.45,637.21 77.42,637.07 82.40,636.93 87.38,636.80 92.35,636.67 97.33,636.55 102.30,636.44 107.28,636.32 112.25,636.22 117.22,636.12 122.20,636.03 127.17,635.95 132.15,635.87 137.12,635.80 142.10,635.74 147.07,635.69 152.05,635.64 157.03,635.61 162.00,635.58 166.97,635.55 171.95,635.54 176.93,635.53 181.90,635.52 186.88,635.52 191.85,635.53 196.82,635.54 201.80,635.56 206.78,635.58 211.75,635.60 216.72,635.62 221.70,635.65 226.68,635.68 231.65,635.72 236.62,635.75 241.60,635.79 246.57,635.83 251.55,635.87 256.52,635.91 261.50,635.95" fill="none" stroke="#4a4a4a" stroke-width="1.15" stroke-dasharray="2.3,1.8"/>
<line x1="62.50" y1="528.70" x2="62.50" y2="700.05" stroke="#1a1a1a" stroke-width="1.6" />
<line x1="58.00" y1="699.30" x2="62.50" y2="699.30" stroke="#1a1a1a" stroke-width="1.4" />
<text x="53.50" y="703.00" font-size="12" text-anchor="end" fill="#222" letter-spacing="0.6" stroke="#222" stroke-width="0.12">0</text>
<line x1="58.00" y1="666.02" x2="62.50" y2="666.02" stroke="#1a1a1a" stroke-width="1.4" />
<text x="53.50" y="669.72" font-size="12" text-anchor="end" fill="#222" letter-spacing="0.6" stroke="#222" stroke-width="0.12">20</text>
<line x1="58.00" y1="632.74" x2="62.50" y2="632.74" stroke="#1a1a1a" stroke-width="1.4" />
<text x="53.50" y="636.44" font-size="12" text-anchor="end" fill="#222" letter-spacing="0.6" stroke="#222" stroke-width="0.12">40</text>
<line x1="58.00" y1="599.46" x2="62.50" y2="599.46" stroke="#1a1a1a" stroke-width="1.4" />
<text x="53.50" y="603.16" font-size="12" text-anchor="end" fill="#222" letter-spacing="0.6" stroke="#222" stroke-width="0.12">60</text>
<line x1="58.00" y1="566.18" x2="62.50" y2="566.18" stroke="#1a1a1a" stroke-width="1.4" />
<text x="53.50" y="569.88" font-size="12" text-anchor="end" fill="#222" letter-spacing="0.6" stroke="#222" stroke-width="0.12">80</text>
<line x1="58.00" y1="532.90" x2="62.50" y2="532.90" stroke="#1a1a1a" stroke-width="1.4" />
<text x="53.50" y="536.60" font-size="12" text-anchor="end" fill="#222" letter-spacing="0.6" stroke="#222" stroke-width="0.12">100</text>
<line x1="61.70" y1="699.30" x2="316.30" y2="699.30" stroke="#1a1a1a" stroke-width="1.6" />
<line x1="62.50" y1="699.30" x2="62.50" y2="703.60" stroke="#1a1a1a" stroke-width="1.4" />
<text x="62.80" y="719.50" font-size="12" text-anchor="middle" fill="#222" letter-spacing="0.6" stroke="#222" stroke-width="0.12">0</text>
<line x1="112.36" y1="699.30" x2="112.36" y2="703.60" stroke="#1a1a1a" stroke-width="1.4" />
<text x="112.66" y="719.50" font-size="12" text-anchor="middle" fill="#222" letter-spacing="0.6" stroke="#222" stroke-width="0.12">2</text>
<line x1="162.22" y1="699.30" x2="162.22" y2="703.60" stroke="#1a1a1a" stroke-width="1.4" />
<text x="162.52" y="719.50" font-size="12" text-anchor="middle" fill="#222" letter-spacing="0.6" stroke="#222" stroke-width="0.12">4</text>
<line x1="212.08" y1="699.30" x2="212.08" y2="703.60" stroke="#1a1a1a" stroke-width="1.4" />
<text x="212.38" y="719.50" font-size="12" text-anchor="middle" fill="#222" letter-spacing="0.6" stroke="#222" stroke-width="0.12">6</text>
<line x1="261.94" y1="699.30" x2="261.94" y2="703.60" stroke="#1a1a1a" stroke-width="1.4" />
<text x="262.24" y="719.50" font-size="12" text-anchor="middle" fill="#222" letter-spacing="0.6" stroke="#222" stroke-width="0.12">8</text>
<line x1="311.80" y1="699.30" x2="311.80" y2="703.60" stroke="#1a1a1a" stroke-width="1.4" />
<text x="312.10" y="719.50" font-size="12" text-anchor="middle" fill="#222" letter-spacing="0.6" stroke="#222" stroke-width="0.12">10</text>
<line x1="400.60" y1="19.50" x2="400.60" y2="187.85" stroke="#1a1a1a" stroke-width="1.6" />
<line x1="396.10" y1="187.10" x2="400.60" y2="187.10" stroke="#1a1a1a" stroke-width="1.4" />
<text x="391.80" y="190.80" font-size="12" text-anchor="end" fill="#222" letter-spacing="0.6" stroke="#222" stroke-width="0.12">0</text>
<line x1="396.10" y1="154.38" x2="400.60" y2="154.38" stroke="#1a1a1a" stroke-width="1.4" />
<text x="391.80" y="158.08" font-size="12" text-anchor="end" fill="#222" letter-spacing="0.6" stroke="#222" stroke-width="0.12">20</text>
<line x1="396.10" y1="121.66" x2="400.60" y2="121.66" stroke="#1a1a1a" stroke-width="1.4" />
<text x="391.80" y="125.36" font-size="12" text-anchor="end" fill="#222" letter-spacing="0.6" stroke="#222" stroke-width="0.12">40</text>
<line x1="396.10" y1="88.94" x2="400.60" y2="88.94" stroke="#1a1a1a" stroke-width="1.4" />
<text x="391.80" y="92.64" font-size="12" text-anchor="end" fill="#222" letter-spacing="0.6" stroke="#222" stroke-width="0.12">60</text>
<line x1="396.10" y1="56.22" x2="400.60" y2="56.22" stroke="#1a1a1a" stroke-width="1.4" />
<text x="391.80" y="59.92" font-size="12" text-anchor="end" fill="#222" letter-spacing="0.6" stroke="#222" stroke-width="0.12">80</text>
<line x1="396.10" y1="23.50" x2="400.60" y2="23.50" stroke="#1a1a1a" stroke-width="1.4" />
<text x="391.80" y="27.20" font-size="12" text-anchor="end" fill="#222" letter-spacing="0.6" stroke="#222" stroke-width="0.12">100</text>
<line x1="399.80" y1="187.10" x2="509.00" y2="187.10" stroke="#1a1a1a" stroke-width="1.6" />
<line x1="431.60" y1="187.10" x2="431.60" y2="191.40" stroke="#1a1a1a" stroke-width="1.4" />
<line x1="478.50" y1="187.10" x2="478.50" y2="191.40" stroke="#1a1a1a" stroke-width="1.4" />
<text x="431.60" y="207.30" font-size="11.6" text-anchor="middle" textLength="33" lengthAdjust="spacingAndGlyphs" fill="#222" >Above</text>
<text x="431.40" y="222.00" font-size="11.6" text-anchor="middle" textLength="29.6" lengthAdjust="spacingAndGlyphs" fill="#222" >cutoff</text>
<text x="478.50" y="207.30" font-size="11.6" text-anchor="middle" textLength="32.3" lengthAdjust="spacingAndGlyphs" fill="#222" >Below</text>
<text x="478.50" y="222.00" font-size="11.6" text-anchor="middle" textLength="29.6" lengthAdjust="spacingAndGlyphs" fill="#222" >cutoff</text>
<text x="0" y="0" font-size="14" letter-spacing="0.738" fill="#222" stroke="#222" stroke-width="0.18" transform="translate(404.20,242.30) scale(0.64,1)">Vicenza bleeding score</text>
<text x="0" y="0" font-size="14" letter-spacing="0.889" fill="#222" stroke="#222" stroke-width="0.18" transform="translate(361.00,145.50) rotate(-90) scale(0.64,1)">Peak plasmin (nM)</text>
<polyline points="431.8,40.3 431.8,30.5 478.5,30.5 478.5,85.7" fill="none" stroke="#1a1a1a" stroke-width="1.4"/>
<text x="455.00" y="27.60" font-size="12" text-anchor="middle" textLength="12.2" lengthAdjust="spacingAndGlyphs" fill="#222" >ns</text>
<rect x="430.70" y="48.80" width="1.6" height="1.6" fill="#9a1036"/>
<rect x="430.70" y="64.20" width="1.6" height="1.6" fill="#9a1036"/>
<rect x="430.40" y="76.00" width="1.6" height="1.6" fill="#9a1036"/>
<rect x="429.90" y="80.60" width="1.6" height="1.6" fill="#9a1036"/>
<rect x="431.50" y="82.20" width="1.6" height="1.6" fill="#9a1036"/>
<rect x="430.70" y="85.70" width="1.6" height="1.6" fill="#9a1036"/>
<rect x="431.20" y="87.40" width="1.6" height="1.6" fill="#9a1036"/>
<rect x="430.40" y="89.50" width="1.6" height="1.6" fill="#9a1036"/>
<rect x="429.00" y="92.70" width="1.6" height="1.6" fill="#9a1036"/>
<rect x="432.20" y="92.70" width="1.6" height="1.6" fill="#9a1036"/>
<rect x="429.00" y="94.90" width="1.6" height="1.6" fill="#9a1036"/>
<rect x="432.80" y="94.40" width="1.6" height="1.6" fill="#9a1036"/>
<rect x="430.90" y="97.60" width="1.6" height="1.6" fill="#9a1036"/>
<rect x="430.10" y="98.70" width="1.6" height="1.6" fill="#9a1036"/>
<rect x="430.40" y="151.80" width="1.6" height="1.6" fill="#9a1036"/>
<rect x="430.70" y="160.00" width="1.6" height="1.6" fill="#9a1036"/>
<rect x="428.74" y="100.14" width="1.9" height="1.9" fill="#c8143e"/>
<rect x="430.67" y="99.97" width="1.9" height="1.9" fill="#c8143e"/>
<rect x="432.35" y="99.77" width="1.9" height="1.9" fill="#c8143e"/>
<rect x="426.34" y="101.55" width="1.9" height="1.9" fill="#c8143e"/>
<rect x="428.82" y="101.57" width="1.9" height="1.9" fill="#c8143e"/>
<rect x="430.73" y="102.07" width="1.9" height="1.9" fill="#c8143e"/>
<rect x="432.61" y="102.09" width="1.9" height="1.9" fill="#c8143e"/>
<rect x="434.92" y="101.67" width="1.9" height="1.9" fill="#c8143e"/>
<rect x="424.02" y="103.44" width="1.9" height="1.9" fill="#c8143e"/>
<rect x="425.89" y="103.60" width="1.9" height="1.9" fill="#c8143e"/>
<rect x="427.83" y="103.58" width="1.9" height="1.9" fill="#c8143e"/>
<rect x="429.47" y="103.37" width="1.9" height="1.9" fill="#c8143e"/>
<rect x="431.52" y="103.44" width="1.9" height="1.9" fill="#c8143e"/>
<rect x="433.36" y="103.43" width="1.9" height="1.9" fill="#c8143e"/>
<rect x="435.34" y="103.40" width="1.9" height="1.9" fill="#c8143e"/>
<rect x="437.07" y="103.78" width="1.9" height="1.9" fill="#c8143e"/>
<rect x="424.45" y="105.59" width="1.9" height="1.9" fill="#c8143e"/>
<rect x="426.55" y="105.45" width="1.9" height="1.9" fill="#c8143e"/>
<rect x="428.62" y="105.02" width="1.9" height="1.9" fill="#c8143e"/>
<rect x="430.81" y="105.34" width="1.9" height="1.9" fill="#c8143e"/>
<rect x="432.56" y="105.42" width="1.9" height="1.9" fill="#c8143e"/>
<rect x="434.75" y="105.27" width="1.9" height="1.9" fill="#c8143e"/>
<rect x="436.99" y="105.28" width="1.9" height="1.9" fill="#c8143e"/>
<rect x="424.14" y="107.17" width="1.9" height="1.9" fill="#c8143e"/>
<rect x="426.49" y="107.24" width="1.9" height="1.9" fill="#c8143e"/>
<rect x="427.91" y="107.15" width="1.9" height="1.9" fill="#c8143e"/>
<rect x="429.74" y="106.85" width="1.9" height="1.9" fill="#c8143e"/>
<rect x="431.28" y="107.21" width="1.9" height="1.9" fill="#c8143e"/>
<rect x="433.17" y="106.98" width="1.9" height="1.9" fill="#c8143e"/>
<rect x="434.86" y="107.02" width="1.9" height="1.9" fill="#c8143e"/>
<rect x="437.12" y="107.24" width="1.9" height="1.9" fill="#c8143e"/>
<rect x="423.52" y="108.75" width="1.9" height="1.9" fill="#c8143e"/>
<rect x="425.89" y="109.07" width="1.9" height="1.9" fill="#c8143e"/>
<rect x="427.46" y="108.64" width="1.9" height="1.9" fill="#c8143e"/>
<rect x="429.64" y="108.85" width="1.9" height="1.9" fill="#c8143e"/>
<rect x="431.35" y="108.75" width="1.9" height="1.9" fill="#c8143e"/>
<rect x="433.69" y="109.07" width="1.9" height="1.9" fill="#c8143e"/>
<rect x="435.65" y="108.87" width="1.9" height="1.9" fill="#c8143e"/>
<rect x="437.38" y="109.04" width="1.9" height="1.9" fill="#c8143e"/>
<rect x="423.38" y="110.73" width="1.9" height="1.9" fill="#c8143e"/>
<rect x="424.97" y="110.31" width="1.9" height="1.9" fill="#c8143e"/>
<rect x="426.64" y="110.29" width="1.9" height="1.9" fill="#c8143e"/>
<rect x="428.57" y="110.45" width="1.9" height="1.9" fill="#c8143e"/>
<rect x="430.35" y="110.34" width="1.9" height="1.9" fill="#c8143e"/>
<rect x="432.44" y="110.27" width="1.9" height="1.9" fill="#c8143e"/>
<rect x="434.47" y="110.34" width="1.9" height="1.9" fill="#c8143e"/>
<rect x="436.18" y="110.47" width="1.9" height="1.9" fill="#c8143e"/>
<rect x="438.36" y="110.85" width="1.9" height="1.9" fill="#c8143e"/>
<rect x="422.68" y="112.05" width="1.9" height="1.9" fill="#c8143e"/>
<rect x="424.59" y="112.16" width="1.9" height="1.9" fill="#c8143e"/>
<rect x="426.47" y="112.01" width="1.9" height="1.9" fill="#c8143e"/>
<rect x="430.44" y="112.33" width="1.9" height="1.9" fill="#c8143e"/>
<rect x="432.66" y="112.59" width="1.9" height="1.9" fill="#c8143e"/>
<rect x="434.75" y="112.16" width="1.9" height="1.9" fill="#c8143e"/>
<rect x="436.42" y="112.46" width="1.9" height="1.9" fill="#c8143e"/>
<rect x="438.78" y="112.20" width="1.9" height="1.9" fill="#c8143e"/>
<rect x="422.46" y="114.34" width="1.9" height="1.9" fill="#c8143e"/>
<rect x="424.32" y="114.24" width="1.9" height="1.9" fill="#c8143e"/>
<rect x="425.83" y="114.06" width="1.9" height="1.9" fill="#c8143e"/>
<rect x="427.57" y="113.77" width="1.9" height="1.9" fill="#c8143e"/>
<rect x="429.57" y="114.17" width="1.9" height="1.9" fill="#c8143e"/>
<rect x="433.71" y="114.34" width="1.9" height="1.9" fill="#c8143e"/>
<rect x="437.00" y="113.89" width="1.9" height="1.9" fill="#c8143e"/>
<rect x="438.85" y="114.12" width="1.9" height="1.9" fill="#c8143e"/>
<rect x="422.06" y="115.79" width="1.9" height="1.9" fill="#c8143e"/>
<rect x="423.99" y="115.55" width="1.9" height="1.9" fill="#c8143e"/>
<rect x="426.01" y="115.97" width="1.9" height="1.9" fill="#c8143e"/>
<rect x="427.71" y="115.61" width="1.9" height="1.9" fill="#c8143e"/>
<rect x="429.57" y="115.98" width="1.9" height="1.9" fill="#c8143e"/>
<rect x="433.52" y="116.07" width="1.9" height="1.9" fill="#c8143e"/>
<rect x="435.34" y="115.58" width="1.9" height="1.9" fill="#c8143e"/>
<rect x="437.73" y="115.98" width="1.9" height="1.9" fill="#c8143e"/>
<rect x="439.64" y="116.09" width="1.9" height="1.9" fill="#c8143e"/>
<rect x="421.16" y="117.58" width="1.9" height="1.9" fill="#c8143e"/>
<rect x="422.84" y="117.83" width="1.9" height="1.9" fill="#c8143e"/>
<rect x="425.02" y="117.81" width="1.9" height="1.9" fill="#c8143e"/>
<rect x="427.11" y="117.75" width="1.9" height="1.9" fill="#c8143e"/>
<rect x="428.62" y="117.43" width="1.9" height="1.9" fill="#c8143e"/>
<rect x="430.70" y="117.41" width="1.9" height="1.9" fill="#c8143e"/>
<rect x="432.31" y="117.80" width="1.9" height="1.9" fill="#c8143e"/>
<rect x="434.39" y="117.60" width="1.9" height="1.9" fill="#c8143e"/>
<rect x="436.24" y="117.80" width="1.9" height="1.9" fill="#c8143e"/>
<rect x="438.19" y="117.56" width="1.9" height="1.9" fill="#c8143e"/>
<rect x="440.02" y="117.36" width="1.9" height="1.9" fill="#c8143e"/>
<rect x="420.75" y="119.10" width="1.9" height="1.9" fill="#c8143e"/>
<rect x="422.54" y="119.33" width="1.9" height="1.9" fill="#c8143e"/>
<rect x="424.25" y="119.33" width="1.9" height="1.9" fill="#c8143e"/>
<rect x="425.83" y="119.34" width="1.9" height="1.9" fill="#c8143e"/>
<rect x="427.77" y="119.46" width="1.9" height="1.9" fill="#c8143e"/>
<rect x="429.77" y="119.46" width="1.9" height="1.9" fill="#c8143e"/>
<rect x="431.53" y="119.37" width="1.9" height="1.9" fill="#c8143e"/>
<rect x="433.41" y="119.42" width="1.9" height="1.9" fill="#c8143e"/>
<rect x="435.25" y="119.29" width="1.9" height="1.9" fill="#c8143e"/>
<rect x="439.12" y="119.57" width="1.9" height="1.9" fill="#c8143e"/>
<rect x="440.77" y="119.57" width="1.9" height="1.9" fill="#c8143e"/>
<rect x="416.83" y="120.82" width="1.9" height="1.9" fill="#c8143e"/>
<rect x="418.74" y="120.89" width="1.9" height="1.9" fill="#c8143e"/>
<rect x="421.04" y="121.22" width="1.9" height="1.9" fill="#c8143e"/>
<rect x="422.67" y="121.18" width="1.9" height="1.9" fill="#c8143e"/>
<rect x="424.61" y="121.28" width="1.9" height="1.9" fill="#c8143e"/>
<rect x="428.98" y="120.99" width="1.9" height="1.9" fill="#c8143e"/>
<rect x="430.94" y="121.25" width="1.9" height="1.9" fill="#c8143e"/>
<rect x="432.55" y="121.06" width="1.9" height="1.9" fill="#c8143e"/>
<rect x="434.35" y="120.94" width="1.9" height="1.9" fill="#c8143e"/>
<rect x="436.19" y="121.08" width="1.9" height="1.9" fill="#c8143e"/>
<rect x="438.13" y="120.95" width="1.9" height="1.9" fill="#c8143e"/>
<rect x="440.37" y="120.79" width="1.9" height="1.9" fill="#c8143e"/>
<rect x="444.53" y="120.81" width="1.9" height="1.9" fill="#c8143e"/>
<rect x="416.39" y="122.97" width="1.9" height="1.9" fill="#c8143e"/>
<rect x="418.31" y="122.75" width="1.9" height="1.9" fill="#c8143e"/>
<rect x="420.59" y="122.66" width="1.9" height="1.9" fill="#c8143e"/>
<rect x="422.51" y="122.84" width="1.9" height="1.9" fill="#c8143e"/>
<rect x="423.88" y="122.53" width="1.9" height="1.9" fill="#c8143e"/>
<rect x="425.94" y="122.54" width="1.9" height="1.9" fill="#c8143e"/>
<rect x="429.90" y="122.55" width="1.9" height="1.9" fill="#c8143e"/>
<rect x="431.32" y="123.02" width="1.9" height="1.9" fill="#c8143e"/>
<rect x="433.35" y="122.83" width="1.9" height="1.9" fill="#c8143e"/>
<rect x="436.95" y="122.82" width="1.9" height="1.9" fill="#c8143e"/>
<rect x="438.81" y="122.60" width="1.9" height="1.9" fill="#c8143e"/>
<rect x="440.73" y="122.69" width="1.9" height="1.9" fill="#c8143e"/>
<rect x="442.93" y="122.67" width="1.9" height="1.9" fill="#c8143e"/>
<rect x="444.44" y="122.71" width="1.9" height="1.9" fill="#c8143e"/>
<rect x="416.13" y="124.26" width="1.9" height="1.9" fill="#c8143e"/>
<rect x="418.23" y="124.36" width="1.9" height="1.9" fill="#c8143e"/>
<rect x="420.37" y="124.31" width="1.9" height="1.9" fill="#c8143e"/>
<rect x="421.99" y="124.55" width="1.9" height="1.9" fill="#c8143e"/>
<rect x="423.88" y="124.55" width="1.9" height="1.9" fill="#c8143e"/>
<rect x="426.15" y="124.46" width="1.9" height="1.9" fill="#c8143e"/>
<rect x="427.90" y="124.63" width="1.9" height="1.9" fill="#c8143e"/>
<rect x="429.60" y="124.28" width="1.9" height="1.9" fill="#c8143e"/>
<rect x="431.35" y="124.69" width="1.9" height="1.9" fill="#c8143e"/>
<rect x="433.32" y="124.30" width="1.9" height="1.9" fill="#c8143e"/>
<rect x="435.66" y="124.65" width="1.9" height="1.9" fill="#c8143e"/>
<rect x="437.20" y="124.43" width="1.9" height="1.9" fill="#c8143e"/>
<rect x="439.07" y="124.52" width="1.9" height="1.9" fill="#c8143e"/>
<rect x="441.46" y="124.83" width="1.9" height="1.9" fill="#c8143e"/>
<rect x="442.95" y="124.83" width="1.9" height="1.9" fill="#c8143e"/>
<rect x="444.93" y="124.25" width="1.9" height="1.9" fill="#c8143e"/>
<rect x="417.05" y="126.30" width="1.9" height="1.9" fill="#c8143e"/>
<rect x="419.01" y="126.00" width="1.9" height="1.9" fill="#c8143e"/>
<rect x="420.70" y="126.24" width="1.9" height="1.9" fill="#c8143e"/>
<rect x="422.60" y="126.18" width="1.9" height="1.9" fill="#c8143e"/>
<rect x="424.88" y="126.32" width="1.9" height="1.9" fill="#c8143e"/>
<rect x="426.86" y="126.43" width="1.9" height="1.9" fill="#c8143e"/>
<rect x="428.64" y="126.20" width="1.9" height="1.9" fill="#c8143e"/>
<rect x="432.73" y="126.39" width="1.9" height="1.9" fill="#c8143e"/>
<rect x="434.73" y="126.54" width="1.9" height="1.9" fill="#c8143e"/>
<rect x="436.61" y="126.49" width="1.9" height="1.9" fill="#c8143e"/>
<rect x="438.43" y="126.30" width="1.9" height="1.9" fill="#c8143e"/>
<rect x="440.54" y="126.50" width="1.9" height="1.9" fill="#c8143e"/>
<rect x="442.53" y="126.41" width="1.9" height="1.9" fill="#c8143e"/>
<rect x="444.07" y="126.02" width="1.9" height="1.9" fill="#c8143e"/>
<rect x="418.37" y="127.81" width="1.9" height="1.9" fill="#c8143e"/>
<rect x="420.36" y="128.13" width="1.9" height="1.9" fill="#c8143e"/>
<rect x="422.31" y="128.04" width="1.9" height="1.9" fill="#c8143e"/>
<rect x="424.26" y="128.20" width="1.9" height="1.9" fill="#c8143e"/>
<rect x="425.98" y="128.15" width="1.9" height="1.9" fill="#c8143e"/>
<rect x="427.98" y="127.90" width="1.9" height="1.9" fill="#c8143e"/>
<rect x="429.57" y="128.19" width="1.9" height="1.9" fill="#c8143e"/>
<rect x="431.73" y="128.34" width="1.9" height="1.9" fill="#c8143e"/>
<rect x="433.39" y="128.04" width="1.9" height="1.9" fill="#c8143e"/>
<rect x="435.50" y="128.12" width="1.9" height="1.9" fill="#c8143e"/>
<rect x="436.96" y="127.84" width="1.9" height="1.9" fill="#c8143e"/>
<rect x="439.24" y="127.93" width="1.9" height="1.9" fill="#c8143e"/>
<rect x="440.68" y="127.79" width="1.9" height="1.9" fill="#c8143e"/>
<rect x="442.95" y="128.17" width="1.9" height="1.9" fill="#c8143e"/>
<rect x="419.59" y="129.81" width="1.9" height="1.9" fill="#c8143e"/>
<rect x="421.52" y="129.57" width="1.9" height="1.9" fill="#c8143e"/>
<rect x="423.18" y="130.09" width="1.9" height="1.9" fill="#c8143e"/>
<rect x="426.98" y="129.99" width="1.9" height="1.9" fill="#c8143e"/>
<rect x="430.51" y="129.63" width="1.9" height="1.9" fill="#c8143e"/>
<rect x="434.34" y="129.59" width="1.9" height="1.9" fill="#c8143e"/>
<rect x="436.39" y="129.58" width="1.9" height="1.9" fill="#c8143e"/>
<rect x="437.94" y="130.03" width="1.9" height="1.9" fill="#c8143e"/>
<rect x="439.60" y="130.04" width="1.9" height="1.9" fill="#c8143e"/>
<rect x="441.30" y="129.50" width="1.9" height="1.9" fill="#c8143e"/>
<rect x="420.90" y="131.43" width="1.9" height="1.9" fill="#c8143e"/>
<rect x="422.78" y="131.44" width="1.9" height="1.9" fill="#c8143e"/>
<rect x="424.52" y="131.70" width="1.9" height="1.9" fill="#c8143e"/>
<rect x="426.53" y="131.81" width="1.9" height="1.9" fill="#c8143e"/>
<rect x="428.95" y="131.42" width="1.9" height="1.9" fill="#c8143e"/>
<rect x="430.59" y="131.85" width="1.9" height="1.9" fill="#c8143e"/>
<rect x="432.51" y="131.51" width="1.9" height="1.9" fill="#c8143e"/>
<rect x="434.27" y="131.31" width="1.9" height="1.9" fill="#c8143e"/>
<rect x="436.36" y="131.81" width="1.9" height="1.9" fill="#c8143e"/>
<rect x="438.29" y="131.56" width="1.9" height="1.9" fill="#c8143e"/>
<rect x="440.30" y="131.82" width="1.9" height="1.9" fill="#c8143e"/>
<rect x="422.14" y="133.38" width="1.9" height="1.9" fill="#c8143e"/>
<rect x="424.15" y="133.33" width="1.9" height="1.9" fill="#c8143e"/>
<rect x="425.55" y="133.44" width="1.9" height="1.9" fill="#c8143e"/>
<rect x="427.90" y="133.39" width="1.9" height="1.9" fill="#c8143e"/>
<rect x="429.41" y="133.56" width="1.9" height="1.9" fill="#c8143e"/>
<rect x="431.60" y="133.21" width="1.9" height="1.9" fill="#c8143e"/>
<rect x="433.69" y="133.59" width="1.9" height="1.9" fill="#c8143e"/>
<rect x="435.58" y="133.18" width="1.9" height="1.9" fill="#c8143e"/>
<rect x="437.35" y="133.10" width="1.9" height="1.9" fill="#c8143e"/>
<rect x="439.17" y="133.54" width="1.9" height="1.9" fill="#c8143e"/>
<rect x="422.61" y="135.29" width="1.9" height="1.9" fill="#c8143e"/>
<rect x="426.50" y="134.87" width="1.9" height="1.9" fill="#c8143e"/>
<rect x="428.59" y="134.80" width="1.9" height="1.9" fill="#c8143e"/>
<rect x="430.51" y="135.09" width="1.9" height="1.9" fill="#c8143e"/>
<rect x="432.77" y="135.00" width="1.9" height="1.9" fill="#c8143e"/>
<rect x="434.60" y="134.98" width="1.9" height="1.9" fill="#c8143e"/>
<rect x="436.29" y="134.92" width="1.9" height="1.9" fill="#c8143e"/>
<rect x="423.67" y="136.88" width="1.9" height="1.9" fill="#c8143e"/>
<rect x="425.49" y="136.66" width="1.9" height="1.9" fill="#c8143e"/>
<rect x="427.60" y="136.77" width="1.9" height="1.9" fill="#c8143e"/>
<rect x="431.87" y="136.51" width="1.9" height="1.9" fill="#c8143e"/>
<rect x="433.77" y="137.04" width="1.9" height="1.9" fill="#c8143e"/>
<rect x="435.69" y="136.50" width="1.9" height="1.9" fill="#c8143e"/>
<rect x="437.89" y="137.00" width="1.9" height="1.9" fill="#c8143e"/>
<rect x="424.96" y="138.40" width="1.9" height="1.9" fill="#c8143e"/>
<rect x="426.46" y="138.56" width="1.9" height="1.9" fill="#c8143e"/>
<rect x="428.93" y="138.68" width="1.9" height="1.9" fill="#c8143e"/>
<rect x="430.81" y="138.52" width="1.9" height="1.9" fill="#c8143e"/>
<rect x="432.36" y="138.72" width="1.9" height="1.9" fill="#c8143e"/>
<rect x="434.88" y="138.64" width="1.9" height="1.9" fill="#c8143e"/>
<rect x="436.40" y="138.40" width="1.9" height="1.9" fill="#c8143e"/>
<rect x="425.80" y="140.07" width="1.9" height="1.9" fill="#c8143e"/>
<rect x="427.68" y="140.35" width="1.9" height="1.9" fill="#c8143e"/>
<rect x="429.49" y="140.36" width="1.9" height="1.9" fill="#c8143e"/>
<rect x="431.53" y="140.28" width="1.9" height="1.9" fill="#c8143e"/>
<rect x="435.85" y="140.29" width="1.9" height="1.9" fill="#c8143e"/>
<rect x="426.43" y="142.33" width="1.9" height="1.9" fill="#c8143e"/>
<rect x="428.50" y="141.76" width="1.9" height="1.9" fill="#c8143e"/>
<rect x="430.75" y="142.00" width="1.9" height="1.9" fill="#c8143e"/>
<rect x="432.79" y="142.31" width="1.9" height="1.9" fill="#c8143e"/>
<rect x="434.44" y="141.95" width="1.9" height="1.9" fill="#c8143e"/>
<rect x="427.62" y="143.62" width="1.9" height="1.9" fill="#c8143e"/>
<rect x="429.75" y="143.80" width="1.9" height="1.9" fill="#c8143e"/>
<rect x="431.98" y="143.69" width="1.9" height="1.9" fill="#c8143e"/>
<rect x="433.63" y="143.63" width="1.9" height="1.9" fill="#c8143e"/>
<rect x="428.53" y="145.82" width="1.9" height="1.9" fill="#c8143e"/>
<rect x="430.46" y="145.38" width="1.9" height="1.9" fill="#c8143e"/>
<rect x="432.74" y="145.82" width="1.9" height="1.9" fill="#c8143e"/>
<line x1="416.10" y1="122.70" x2="447.40" y2="122.70" stroke="#111" stroke-width="1.4" />
<rect x="477.40" y="94.40" width="2.0" height="2.0" fill="#1c4478"/>
<rect x="477.40" y="101.20" width="2.0" height="2.0" fill="#1c4478"/>
<rect x="475.70" y="108.60" width="2.0" height="2.0" fill="#1c4478"/>
<rect x="479.00" y="108.00" width="2.0" height="2.0" fill="#1c4478"/>
<rect x="479.00" y="109.50" width="2.0" height="2.0" fill="#1c4478"/>
<rect x="475.70" y="116.00" width="2.0" height="2.0" fill="#1c4478"/>
<rect x="479.00" y="115.10" width="2.0" height="2.0" fill="#1c4478"/>
<rect x="479.00" y="116.70" width="2.0" height="2.0" fill="#1c4478"/>
<rect x="472.50" y="121.90" width="2.0" height="2.0" fill="#1c4478"/>
<rect x="472.50" y="124.40" width="2.0" height="2.0" fill="#1c4478"/>
<rect x="475.70" y="123.50" width="2.0" height="2.0" fill="#1c4478"/>
<rect x="475.70" y="125.30" width="2.0" height="2.0" fill="#1c4478"/>
<rect x="479.00" y="125.80" width="2.0" height="2.0" fill="#1c4478"/>
<rect x="479.00" y="127.60" width="2.0" height="2.0" fill="#1c4478"/>
<rect x="482.20" y="122.80" width="2.0" height="2.0" fill="#1c4478"/>
<rect x="482.20" y="124.90" width="2.0" height="2.0" fill="#1c4478"/>
<rect x="472.50" y="130.00" width="2.0" height="2.0" fill="#1c4478"/>
<rect x="475.70" y="129.50" width="2.0" height="2.0" fill="#1c4478"/>
<rect x="475.70" y="131.80" width="2.0" height="2.0" fill="#1c4478"/>
<rect x="479.00" y="131.80" width="2.0" height="2.0" fill="#1c4478"/>
<rect x="482.70" y="129.50" width="2.0" height="2.0" fill="#1c4478"/>
<rect x="472.50" y="137.40" width="2.0" height="2.0" fill="#1c4478"/>
<rect x="475.70" y="136.00" width="2.0" height="2.0" fill="#1c4478"/>
<rect x="475.70" y="137.90" width="2.0" height="2.0" fill="#1c4478"/>
<rect x="479.00" y="137.70" width="2.0" height="2.0" fill="#1c4478"/>
<rect x="477.10" y="140.50" width="2.0" height="2.0" fill="#1c4478"/>
<rect x="475.70" y="142.50" width="2.0" height="2.0" fill="#1c4478"/>
<rect x="479.00" y="142.70" width="2.0" height="2.0" fill="#1c4478"/>
<rect x="477.40" y="145.70" width="2.0" height="2.0" fill="#1c4478"/>
<line x1="463.00" y1="128.20" x2="493.90" y2="128.20" stroke="#111" stroke-width="1.3" />
<line x1="400.60" y1="278.70" x2="400.60" y2="444.35" stroke="#1a1a1a" stroke-width="1.6" />
<line x1="396.10" y1="443.60" x2="400.60" y2="443.60" stroke="#1a1a1a" stroke-width="1.4" />
<text x="391.80" y="447.30" font-size="12" text-anchor="end" fill="#222" letter-spacing="0.6" stroke="#222" stroke-width="0.12">0</text>
<line x1="396.10" y1="411.52" x2="400.60" y2="411.52" stroke="#1a1a1a" stroke-width="1.4" />
<text x="391.80" y="415.22" font-size="12" text-anchor="end" fill="#222" letter-spacing="0.6" stroke="#222" stroke-width="0.12">20</text>
<line x1="396.10" y1="379.44" x2="400.60" y2="379.44" stroke="#1a1a1a" stroke-width="1.4" />
<text x="391.80" y="383.14" font-size="12" text-anchor="end" fill="#222" letter-spacing="0.6" stroke="#222" stroke-width="0.12">40</text>
<line x1="396.10" y1="347.36" x2="400.60" y2="347.36" stroke="#1a1a1a" stroke-width="1.4" />
<text x="391.80" y="351.06" font-size="12" text-anchor="end" fill="#222" letter-spacing="0.6" stroke="#222" stroke-width="0.12">60</text>
<line x1="396.10" y1="315.28" x2="400.60" y2="315.28" stroke="#1a1a1a" stroke-width="1.4" />
<text x="391.80" y="318.98" font-size="12" text-anchor="end" fill="#222" letter-spacing="0.6" stroke="#222" stroke-width="0.12">80</text>
<line x1="396.10" y1="283.20" x2="400.60" y2="283.20" stroke="#1a1a1a" stroke-width="1.4" />
<text x="391.80" y="286.90" font-size="12" text-anchor="end" fill="#222" letter-spacing="0.6" stroke="#222" stroke-width="0.12">100</text>
<line x1="399.80" y1="443.60" x2="508.00" y2="443.60" stroke="#1a1a1a" stroke-width="1.6" />
<line x1="431.20" y1="443.60" x2="431.20" y2="447.90" stroke="#1a1a1a" stroke-width="1.4" />
<line x1="477.00" y1="443.60" x2="477.00" y2="447.90" stroke="#1a1a1a" stroke-width="1.4" />
<text x="431.00" y="464.40" font-size="11.6" text-anchor="middle" textLength="33" lengthAdjust="spacingAndGlyphs" fill="#222" >Above</text>
<text x="431.00" y="479.20" font-size="11.6" text-anchor="middle" textLength="29.6" lengthAdjust="spacingAndGlyphs" fill="#222" >cutoff</text>
<text x="477.00" y="464.40" font-size="11.6" text-anchor="middle" textLength="32.3" lengthAdjust="spacingAndGlyphs" fill="#222" >Below</text>
<text x="477.00" y="479.20" font-size="11.6" text-anchor="middle" textLength="29.6" lengthAdjust="spacingAndGlyphs" fill="#222" >cutoff</text>
<text x="0" y="0" font-size="14" letter-spacing="0.645" fill="#222" stroke="#222" stroke-width="0.18" transform="translate(433.90,498.10) scale(0.62,1)">ISTH-BAT</text>
<text x="0" y="0" font-size="14" letter-spacing="0.977" fill="#222" stroke="#222" stroke-width="0.18" transform="translate(361.40,403.50) rotate(-90) scale(0.64,1)">Peak plasmin (nM)</text>
<polyline points="430.8,331.6 430.8,289.6 477,289.6 477,298.8" fill="none" stroke="#1a1a1a" stroke-width="1.4"/>
<text x="454.40" y="286.60" font-size="12" text-anchor="middle" textLength="12.6" lengthAdjust="spacingAndGlyphs" fill="#222" >ns</text>
<rect x="418.75" y="376.05" width="1.5" height="1.5" fill="#b91e4c"/>
<rect x="418.75" y="378.27" width="1.5" height="1.5" fill="#b91e4c"/>
<rect x="418.75" y="380.50" width="1.5" height="1.5" fill="#b91e4c"/>
<rect x="418.75" y="382.73" width="1.5" height="1.5" fill="#b91e4c"/>
<rect x="418.75" y="384.95" width="1.5" height="1.5" fill="#b91e4c"/>
<rect x="418.75" y="392.95" width="1.5" height="1.5" fill="#b91e4c"/>
<rect x="418.75" y="392.95" width="1.5" height="1.5" fill="#b91e4c"/>
<rect x="421.65" y="366.05" width="1.5" height="1.5" fill="#b91e4c"/>
<rect x="421.65" y="368.45" width="1.5" height="1.5" fill="#b91e4c"/>
<rect x="421.65" y="370.85" width="1.5" height="1.5" fill="#b91e4c"/>
<rect x="421.65" y="373.25" width="1.5" height="1.5" fill="#b91e4c"/>
<rect x="421.65" y="375.65" width="1.5" height="1.5" fill="#b91e4c"/>
<rect x="421.65" y="378.05" width="1.5" height="1.5" fill="#b91e4c"/>
<rect x="421.65" y="385.95" width="1.5" height="1.5" fill="#b91e4c"/>
<rect x="421.65" y="385.95" width="1.5" height="1.5" fill="#b91e4c"/>
<rect x="421.65" y="392.95" width="1.5" height="1.5" fill="#b91e4c"/>
<rect x="421.65" y="394.95" width="1.5" height="1.5" fill="#b91e4c"/>
<rect x="424.65" y="366.05" width="1.5" height="1.5" fill="#b91e4c"/>
<rect x="424.65" y="368.27" width="1.5" height="1.5" fill="#b91e4c"/>
<rect x="424.65" y="370.50" width="1.5" height="1.5" fill="#b91e4c"/>
<rect x="424.65" y="372.72" width="1.5" height="1.5" fill="#b91e4c"/>
<rect x="424.65" y="374.94" width="1.5" height="1.5" fill="#b91e4c"/>
<rect x="424.65" y="377.17" width="1.5" height="1.5" fill="#b91e4c"/>
<rect x="424.65" y="379.39" width="1.5" height="1.5" fill="#b91e4c"/>
<rect x="424.65" y="381.61" width="1.5" height="1.5" fill="#b91e4c"/>
<rect x="424.65" y="383.83" width="1.5" height="1.5" fill="#b91e4c"/>
<rect x="424.65" y="386.06" width="1.5" height="1.5" fill="#b91e4c"/>
<rect x="424.65" y="388.28" width="1.5" height="1.5" fill="#b91e4c"/>
<rect x="424.65" y="390.50" width="1.5" height="1.5" fill="#b91e4c"/>
<rect x="424.65" y="392.73" width="1.5" height="1.5" fill="#b91e4c"/>
<rect x="424.65" y="394.95" width="1.5" height="1.5" fill="#b91e4c"/>
<rect x="424.65" y="396.95" width="1.5" height="1.5" fill="#b91e4c"/>
<rect x="424.65" y="396.95" width="1.5" height="1.5" fill="#b91e4c"/>
<rect x="427.65" y="362.65" width="1.5" height="1.5" fill="#b91e4c"/>
<rect x="427.65" y="364.84" width="1.5" height="1.5" fill="#b91e4c"/>
<rect x="427.65" y="367.04" width="1.5" height="1.5" fill="#b91e4c"/>
<rect x="427.65" y="369.23" width="1.5" height="1.5" fill="#b91e4c"/>
<rect x="427.65" y="371.43" width="1.5" height="1.5" fill="#b91e4c"/>
<rect x="427.65" y="373.62" width="1.5" height="1.5" fill="#b91e4c"/>
<rect x="427.65" y="375.81" width="1.5" height="1.5" fill="#b91e4c"/>
<rect x="427.65" y="378.01" width="1.5" height="1.5" fill="#b91e4c"/>
<rect x="427.65" y="380.20" width="1.5" height="1.5" fill="#b91e4c"/>
<rect x="427.65" y="382.40" width="1.5" height="1.5" fill="#b91e4c"/>
<rect x="427.65" y="384.59" width="1.5" height="1.5" fill="#b91e4c"/>
<rect x="427.65" y="386.79" width="1.5" height="1.5" fill="#b91e4c"/>
<rect x="427.65" y="388.98" width="1.5" height="1.5" fill="#b91e4c"/>
<rect x="427.65" y="391.17" width="1.5" height="1.5" fill="#b91e4c"/>
<rect x="427.65" y="393.37" width="1.5" height="1.5" fill="#b91e4c"/>
<rect x="427.65" y="395.56" width="1.5" height="1.5" fill="#b91e4c"/>
<rect x="427.65" y="397.76" width="1.5" height="1.5" fill="#b91e4c"/>
<rect x="427.65" y="399.95" width="1.5" height="1.5" fill="#b91e4c"/>
<rect x="427.65" y="402.95" width="1.5" height="1.5" fill="#b91e4c"/>
<rect x="427.65" y="402.95" width="1.5" height="1.5" fill="#b91e4c"/>
<rect x="430.55" y="361.65" width="1.5" height="1.5" fill="#b91e4c"/>
<rect x="430.55" y="363.82" width="1.5" height="1.5" fill="#b91e4c"/>
<rect x="430.55" y="366.00" width="1.5" height="1.5" fill="#b91e4c"/>
<rect x="430.55" y="368.17" width="1.5" height="1.5" fill="#b91e4c"/>
<rect x="430.55" y="370.34" width="1.5" height="1.5" fill="#b91e4c"/>
<rect x="430.55" y="372.52" width="1.5" height="1.5" fill="#b91e4c"/>
<rect x="430.55" y="374.69" width="1.5" height="1.5" fill="#b91e4c"/>
<rect x="430.55" y="376.87" width="1.5" height="1.5" fill="#b91e4c"/>
<rect x="430.55" y="379.04" width="1.5" height="1.5" fill="#b91e4c"/>
<rect x="430.55" y="381.21" width="1.5" height="1.5" fill="#b91e4c"/>
<rect x="430.55" y="383.39" width="1.5" height="1.5" fill="#b91e4c"/>
<rect x="430.55" y="385.56" width="1.5" height="1.5" fill="#b91e4c"/>
<rect x="430.55" y="387.73" width="1.5" height="1.5" fill="#b91e4c"/>
<rect x="430.55" y="389.91" width="1.5" height="1.5" fill="#b91e4c"/>
<rect x="430.55" y="392.08" width="1.5" height="1.5" fill="#b91e4c"/>
<rect x="430.55" y="394.26" width="1.5" height="1.5" fill="#b91e4c"/>
<rect x="430.55" y="396.43" width="1.5" height="1.5" fill="#b91e4c"/>
<rect x="430.55" y="398.60" width="1.5" height="1.5" fill="#b91e4c"/>
<rect x="430.55" y="400.78" width="1.5" height="1.5" fill="#b91e4c"/>
<rect x="430.55" y="402.95" width="1.5" height="1.5" fill="#b91e4c"/>
<rect x="433.55" y="362.15" width="1.5" height="1.5" fill="#b91e4c"/>
<rect x="433.55" y="364.30" width="1.5" height="1.5" fill="#b91e4c"/>
<rect x="433.55" y="366.44" width="1.5" height="1.5" fill="#b91e4c"/>
<rect x="433.55" y="368.59" width="1.5" height="1.5" fill="#b91e4c"/>
<rect x="433.55" y="370.74" width="1.5" height="1.5" fill="#b91e4c"/>
<rect x="433.55" y="372.89" width="1.5" height="1.5" fill="#b91e4c"/>
<rect x="433.55" y="375.03" width="1.5" height="1.5" fill="#b91e4c"/>
<rect x="433.55" y="377.18" width="1.5" height="1.5" fill="#b91e4c"/>
<rect x="433.55" y="379.33" width="1.5" height="1.5" fill="#b91e4c"/>
<rect x="433.55" y="381.48" width="1.5" height="1.5" fill="#b91e4c"/>
<rect x="433.55" y="383.62" width="1.5" height="1.5" fill="#b91e4c"/>
<rect x="433.55" y="385.77" width="1.5" height="1.5" fill="#b91e4c"/>
<rect x="433.55" y="387.92" width="1.5" height="1.5" fill="#b91e4c"/>
<rect x="433.55" y="390.07" width="1.5" height="1.5" fill="#b91e4c"/>
<rect x="433.55" y="392.21" width="1.5" height="1.5" fill="#b91e4c"/>
<rect x="433.55" y="394.36" width="1.5" height="1.5" fill="#b91e4c"/>
<rect x="433.55" y="396.51" width="1.5" height="1.5" fill="#b91e4c"/>
<rect x="433.55" y="398.66" width="1.5" height="1.5" fill="#b91e4c"/>
<rect x="433.55" y="400.80" width="1.5" height="1.5" fill="#b91e4c"/>
<rect x="433.55" y="402.95" width="1.5" height="1.5" fill="#b91e4c"/>
<rect x="436.45" y="367.05" width="1.5" height="1.5" fill="#b91e4c"/>
<rect x="436.45" y="369.26" width="1.5" height="1.5" fill="#b91e4c"/>
<rect x="436.45" y="371.46" width="1.5" height="1.5" fill="#b91e4c"/>
<rect x="436.45" y="373.67" width="1.5" height="1.5" fill="#b91e4c"/>
<rect x="436.45" y="375.88" width="1.5" height="1.5" fill="#b91e4c"/>
<rect x="436.45" y="378.09" width="1.5" height="1.5" fill="#b91e4c"/>
<rect x="436.45" y="380.29" width="1.5" height="1.5" fill="#b91e4c"/>
<rect x="436.45" y="382.50" width="1.5" height="1.5" fill="#b91e4c"/>
<rect x="436.45" y="384.71" width="1.5" height="1.5" fill="#b91e4c"/>
<rect x="436.45" y="386.91" width="1.5" height="1.5" fill="#b91e4c"/>
<rect x="436.45" y="389.12" width="1.5" height="1.5" fill="#b91e4c"/>
<rect x="436.45" y="391.33" width="1.5" height="1.5" fill="#b91e4c"/>
<rect x="436.45" y="393.54" width="1.5" height="1.5" fill="#b91e4c"/>
<rect x="436.45" y="395.74" width="1.5" height="1.5" fill="#b91e4c"/>
<rect x="436.45" y="397.95" width="1.5" height="1.5" fill="#b91e4c"/>
<rect x="439.45" y="365.05" width="1.5" height="1.5" fill="#b91e4c"/>
<rect x="439.45" y="367.25" width="1.5" height="1.5" fill="#b91e4c"/>
<rect x="439.45" y="369.45" width="1.5" height="1.5" fill="#b91e4c"/>
<rect x="439.45" y="371.65" width="1.5" height="1.5" fill="#b91e4c"/>
<rect x="439.45" y="373.85" width="1.5" height="1.5" fill="#b91e4c"/>
<rect x="439.45" y="376.05" width="1.5" height="1.5" fill="#b91e4c"/>
<rect x="439.45" y="381.05" width="1.5" height="1.5" fill="#b91e4c"/>
<rect x="439.45" y="384.05" width="1.5" height="1.5" fill="#b91e4c"/>
<rect x="439.45" y="393.45" width="1.5" height="1.5" fill="#b91e4c"/>
<rect x="439.45" y="393.45" width="1.5" height="1.5" fill="#b91e4c"/>
<rect x="442.35" y="376.55" width="1.5" height="1.5" fill="#b91e4c"/>
<rect x="442.35" y="379.05" width="1.5" height="1.5" fill="#b91e4c"/>
<rect x="442.35" y="381.55" width="1.5" height="1.5" fill="#b91e4c"/>
<rect x="442.35" y="384.05" width="1.5" height="1.5" fill="#b91e4c"/>
<rect x="442.35" y="392.95" width="1.5" height="1.5" fill="#b91e4c"/>
<rect x="442.35" y="392.95" width="1.5" height="1.5" fill="#b91e4c"/>
<rect x="445.25" y="379.05" width="1.5" height="1.5" fill="#b91e4c"/>
<rect x="445.25" y="381.55" width="1.5" height="1.5" fill="#b91e4c"/>
<rect x="445.25" y="384.05" width="1.5" height="1.5" fill="#b91e4c"/>
<rect x="430.15" y="340.25" width="1.5" height="1.5" fill="#b91e4c"/>
<rect x="428.65" y="345.65" width="1.5" height="1.5" fill="#b91e4c"/>
<rect x="431.95" y="345.35" width="1.5" height="1.5" fill="#b91e4c"/>
<rect x="427.15" y="351.35" width="1.5" height="1.5" fill="#b91e4c"/>
<rect x="430.15" y="352.65" width="1.5" height="1.5" fill="#b91e4c"/>
<rect x="433.15" y="351.15" width="1.5" height="1.5" fill="#b91e4c"/>
<line x1="416.20" y1="380.60" x2="446.30" y2="380.60" stroke="#111" stroke-width="1.4" />
<rect x="476.10" y="307.70" width="1.6" height="1.6" fill="#1c4478"/>
<rect x="476.10" y="307.70" width="1.6" height="1.6" fill="#1c4478"/>
<rect x="476.10" y="334.30" width="1.6" height="1.6" fill="#1c4478"/>
<rect x="476.10" y="334.30" width="1.6" height="1.6" fill="#1c4478"/>
<rect x="476.10" y="339.10" width="1.6" height="1.6" fill="#1c4478"/>
<rect x="476.10" y="339.10" width="1.6" height="1.6" fill="#1c4478"/>
<rect x="476.10" y="343.60" width="1.6" height="1.6" fill="#1c4478"/>
<rect x="476.10" y="343.60" width="1.6" height="1.6" fill="#1c4478"/>
<rect x="476.10" y="347.80" width="1.6" height="1.6" fill="#1c4478"/>
<rect x="476.10" y="347.80" width="1.6" height="1.6" fill="#1c4478"/>
<rect x="476.10" y="352.90" width="1.6" height="1.6" fill="#1c4478"/>
<rect x="476.10" y="352.90" width="1.6" height="1.6" fill="#1c4478"/>
<rect x="476.10" y="356.80" width="1.6" height="1.6" fill="#1c4478"/>
<rect x="476.10" y="359.10" width="1.6" height="1.6" fill="#1c4478"/>
<rect x="476.10" y="362.80" width="1.6" height="1.6" fill="#1c4478"/>
<rect x="476.10" y="362.80" width="1.6" height="1.6" fill="#1c4478"/>
<rect x="476.10" y="367.00" width="1.6" height="1.6" fill="#1c4478"/>
<rect x="476.10" y="367.00" width="1.6" height="1.6" fill="#1c4478"/>
<rect x="476.10" y="369.80" width="1.6" height="1.6" fill="#1c4478"/>
<rect x="476.10" y="372.05" width="1.6" height="1.6" fill="#1c4478"/>
<rect x="476.10" y="374.31" width="1.6" height="1.6" fill="#1c4478"/>
<rect x="476.10" y="376.56" width="1.6" height="1.6" fill="#1c4478"/>
<rect x="476.10" y="378.82" width="1.6" height="1.6" fill="#1c4478"/>
<rect x="476.10" y="381.07" width="1.6" height="1.6" fill="#1c4478"/>
<rect x="476.10" y="383.32" width="1.6" height="1.6" fill="#1c4478"/>
<rect x="476.10" y="385.58" width="1.6" height="1.6" fill="#1c4478"/>
<rect x="476.10" y="387.83" width="1.6" height="1.6" fill="#1c4478"/>
<rect x="476.10" y="390.08" width="1.6" height="1.6" fill="#1c4478"/>
<rect x="476.10" y="392.34" width="1.6" height="1.6" fill="#1c4478"/>
<rect x="476.10" y="394.59" width="1.6" height="1.6" fill="#1c4478"/>
<rect x="476.10" y="396.85" width="1.6" height="1.6" fill="#1c4478"/>
<rect x="476.10" y="399.10" width="1.6" height="1.6" fill="#1c4478"/>
<rect x="476.10" y="401.40" width="1.6" height="1.6" fill="#1c4478"/>
<rect x="476.10" y="401.40" width="1.6" height="1.6" fill="#1c4478"/>
<rect x="476.10" y="409.00" width="1.6" height="1.6" fill="#1c4478"/>
<rect x="476.10" y="409.00" width="1.6" height="1.6" fill="#1c4478"/>
<rect x="473.00" y="352.90" width="1.6" height="1.6" fill="#1c4478"/>
<rect x="473.00" y="352.90" width="1.6" height="1.6" fill="#1c4478"/>
<rect x="473.00" y="362.50" width="1.6" height="1.6" fill="#1c4478"/>
<rect x="473.00" y="362.50" width="1.6" height="1.6" fill="#1c4478"/>
<rect x="473.00" y="370.90" width="1.6" height="1.6" fill="#1c4478"/>
<rect x="473.00" y="372.60" width="1.6" height="1.6" fill="#1c4478"/>
<rect x="473.00" y="374.30" width="1.6" height="1.6" fill="#1c4478"/>
<rect x="473.00" y="377.70" width="1.6" height="1.6" fill="#1c4478"/>
<rect x="473.00" y="377.70" width="1.6" height="1.6" fill="#1c4478"/>
<rect x="473.00" y="382.20" width="1.6" height="1.6" fill="#1c4478"/>
<rect x="473.00" y="384.40" width="1.6" height="1.6" fill="#1c4478"/>
<rect x="473.00" y="387.80" width="1.6" height="1.6" fill="#1c4478"/>
<rect x="473.00" y="387.80" width="1.6" height="1.6" fill="#1c4478"/>
<rect x="473.00" y="391.20" width="1.6" height="1.6" fill="#1c4478"/>
<rect x="473.00" y="393.45" width="1.6" height="1.6" fill="#1c4478"/>
<rect x="473.00" y="395.70" width="1.6" height="1.6" fill="#1c4478"/>
<rect x="479.50" y="351.50" width="1.6" height="1.6" fill="#1c4478"/>
<rect x="479.50" y="351.50" width="1.6" height="1.6" fill="#1c4478"/>
<rect x="479.50" y="358.30" width="1.6" height="1.6" fill="#1c4478"/>
<rect x="479.50" y="358.30" width="1.6" height="1.6" fill="#1c4478"/>
<rect x="479.50" y="366.40" width="1.6" height="1.6" fill="#1c4478"/>
<rect x="479.50" y="366.40" width="1.6" height="1.6" fill="#1c4478"/>
<rect x="479.50" y="368.70" width="1.6" height="1.6" fill="#1c4478"/>
<rect x="479.50" y="370.93" width="1.6" height="1.6" fill="#1c4478"/>
<rect x="479.50" y="373.17" width="1.6" height="1.6" fill="#1c4478"/>
<rect x="479.50" y="375.40" width="1.6" height="1.6" fill="#1c4478"/>
<rect x="479.50" y="378.80" width="1.6" height="1.6" fill="#1c4478"/>
<rect x="479.50" y="380.50" width="1.6" height="1.6" fill="#1c4478"/>
<rect x="479.50" y="382.20" width="1.6" height="1.6" fill="#1c4478"/>
<rect x="479.50" y="387.80" width="1.6" height="1.6" fill="#1c4478"/>
<rect x="479.50" y="390.10" width="1.6" height="1.6" fill="#1c4478"/>
<rect x="479.50" y="394.60" width="1.6" height="1.6" fill="#1c4478"/>
<rect x="479.50" y="396.80" width="1.6" height="1.6" fill="#1c4478"/>
<rect x="469.90" y="361.30" width="1.6" height="1.6" fill="#1c4478"/>
<rect x="469.90" y="361.30" width="1.6" height="1.6" fill="#1c4478"/>
<rect x="469.90" y="372.00" width="1.6" height="1.6" fill="#1c4478"/>
<rect x="469.90" y="373.90" width="1.6" height="1.6" fill="#1c4478"/>
<rect x="469.90" y="375.80" width="1.6" height="1.6" fill="#1c4478"/>
<rect x="469.90" y="377.70" width="1.6" height="1.6" fill="#1c4478"/>
<rect x="469.90" y="382.20" width="1.6" height="1.6" fill="#1c4478"/>
<rect x="469.90" y="384.07" width="1.6" height="1.6" fill="#1c4478"/>
<rect x="469.90" y="385.93" width="1.6" height="1.6" fill="#1c4478"/>
<rect x="469.90" y="387.80" width="1.6" height="1.6" fill="#1c4478"/>
<rect x="469.90" y="391.20" width="1.6" height="1.6" fill="#1c4478"/>
<rect x="469.90" y="393.45" width="1.6" height="1.6" fill="#1c4478"/>
<rect x="469.90" y="395.70" width="1.6" height="1.6" fill="#1c4478"/>
<rect x="482.60" y="361.90" width="1.6" height="1.6" fill="#1c4478"/>
<rect x="482.60" y="361.90" width="1.6" height="1.6" fill="#1c4478"/>
<rect x="482.60" y="370.90" width="1.6" height="1.6" fill="#1c4478"/>
<rect x="482.60" y="372.60" width="1.6" height="1.6" fill="#1c4478"/>
<rect x="482.60" y="374.30" width="1.6" height="1.6" fill="#1c4478"/>
<rect x="482.60" y="378.80" width="1.6" height="1.6" fill="#1c4478"/>
<rect x="482.60" y="381.06" width="1.6" height="1.6" fill="#1c4478"/>
<rect x="482.60" y="383.32" width="1.6" height="1.6" fill="#1c4478"/>
<rect x="482.60" y="385.58" width="1.6" height="1.6" fill="#1c4478"/>
<rect x="482.60" y="387.84" width="1.6" height="1.6" fill="#1c4478"/>
<rect x="482.60" y="390.10" width="1.6" height="1.6" fill="#1c4478"/>
<rect x="466.50" y="378.80" width="1.6" height="1.6" fill="#1c4478"/>
<rect x="466.50" y="378.80" width="1.6" height="1.6" fill="#1c4478"/>
<rect x="466.50" y="381.60" width="1.6" height="1.6" fill="#1c4478"/>
<rect x="466.50" y="381.60" width="1.6" height="1.6" fill="#1c4478"/>
<rect x="466.50" y="385.00" width="1.6" height="1.6" fill="#1c4478"/>
<rect x="466.50" y="385.00" width="1.6" height="1.6" fill="#1c4478"/>
<rect x="486.00" y="373.70" width="1.6" height="1.6" fill="#1c4478"/>
<rect x="486.00" y="373.70" width="1.6" height="1.6" fill="#1c4478"/>
<rect x="486.00" y="382.20" width="1.6" height="1.6" fill="#1c4478"/>
<rect x="486.00" y="383.90" width="1.6" height="1.6" fill="#1c4478"/>
<rect x="486.00" y="385.60" width="1.6" height="1.6" fill="#1c4478"/>
<line x1="462.00" y1="381.30" x2="492.70" y2="381.30" stroke="#111" stroke-width="1.4" />
</svg></body></html>
